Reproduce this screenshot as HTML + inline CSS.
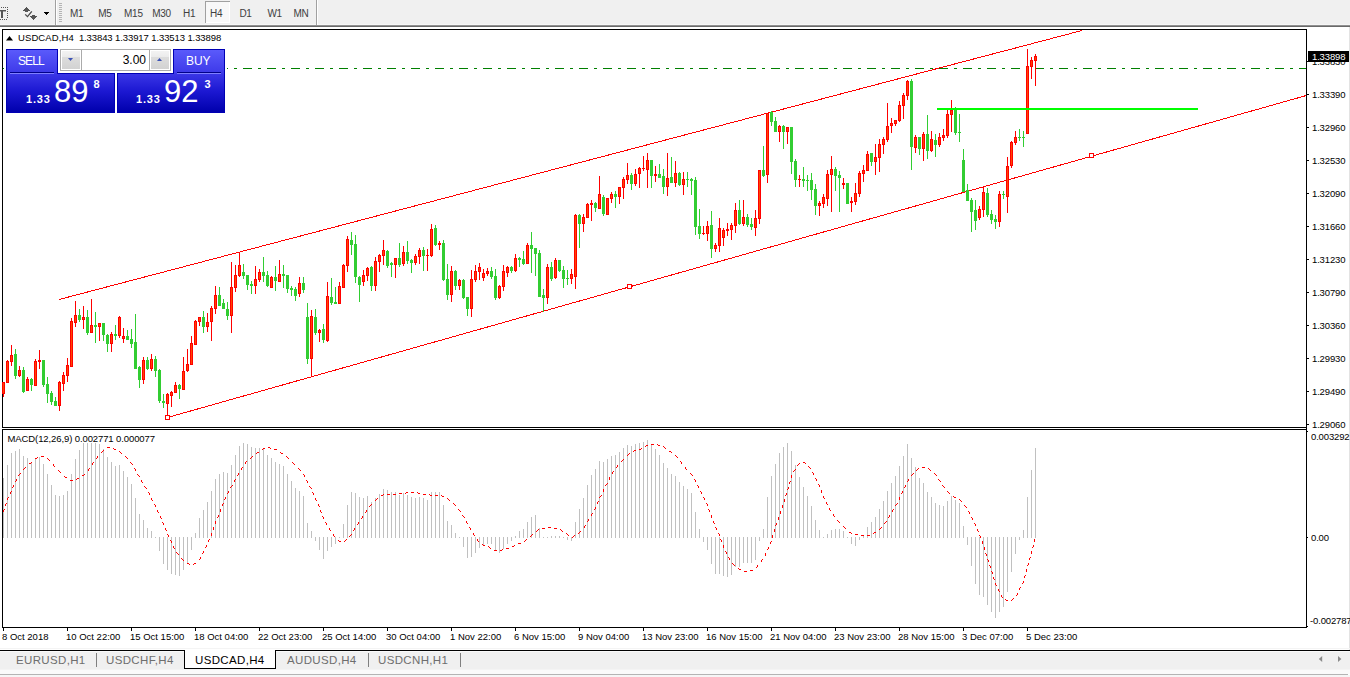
<!DOCTYPE html>
<html><head><meta charset="utf-8"><title>USDCAD,H4</title>
<style>
html,body{margin:0;padding:0;}
body{width:1350px;height:677px;overflow:hidden;background:#fff;position:relative;font-family:"Liberation Sans",sans-serif;}
.a{position:absolute;}
.t{position:absolute;white-space:nowrap;line-height:1;}
.ax{position:absolute;white-space:nowrap;line-height:1;font-size:9.5px;letter-spacing:-0.15px;color:#000;}
.tl{letter-spacing:0px;}
.tf{position:absolute;white-space:nowrap;line-height:1;font-size:10px;color:#404040;top:9px;letter-spacing:-0.3px;}
.tab{position:absolute;white-space:nowrap;line-height:1;font-size:11.5px;color:#6e6e6e;top:655px;letter-spacing:0.35px;}
</style></head><body>

<div class="a" style="left:0;top:0;width:1350px;height:25px;background:#f0f0f0;"></div>
<div class="a" style="left:0;top:24px;width:1350px;height:1px;background:#f6f6f6;"></div>
<div class="a" style="left:0;top:25px;width:1350px;height:1px;background:#909090;"></div>
<div class="a" style="left:0;top:26px;width:1350px;height:1px;background:#696969;"></div>
<svg class="a" style="left:0;top:0" width="330" height="25" shape-rendering="crispEdges">
<rect x="0" y="10" width="6" height="1" fill="#555"/><rect x="0" y="11" width="6" height="1" fill="#a8a8a8"/><rect x="1" y="10" width="2" height="8" fill="#555"/>
<g fill="#555"><rect x="1" y="7" width="1" height="1"/><rect x="3" y="7" width="1" height="1"/><rect x="5" y="7" width="1" height="1"/><rect x="7" y="7" width="1" height="1"/>
<rect x="7" y="9" width="1" height="1"/><rect x="7" y="11" width="1" height="1"/><rect x="7" y="13" width="1" height="1"/><rect x="7" y="15" width="1" height="1"/><rect x="7" y="17" width="1" height="1"/>
<rect x="0" y="19" width="1" height="1"/><rect x="2" y="19" width="1" height="1"/><rect x="4" y="19" width="1" height="1"/><rect x="6" y="19" width="1" height="1"/></g>
<g fill="#555"><rect x="26" y="7" width="1" height="1"/><rect x="25" y="8" width="3" height="1"/><rect x="24" y="9" width="5" height="1"/><rect x="23" y="10" width="7" height="1"/><rect x="25" y="11" width="3" height="1"/><rect x="32" y="15" width="3" height="1"/><rect x="30" y="16" width="7" height="1"/><rect x="31" y="17" width="5" height="1"/><rect x="32" y="18" width="3" height="1"/><rect x="33" y="19" width="1" height="1"/></g><path d="M25.2,14.4 L27.5,16.6 L31.8,11.4" fill="none" stroke="#4a4a4a" stroke-width="1.3" shape-rendering="geometricPrecision"/><g fill="#000"><rect x="44" y="12" width="5" height="1"/><rect x="45" y="13" width="3" height="1"/><rect x="46" y="14" width="1" height="1"/></g>
<rect x="55" y="0" width="1" height="25" fill="#a0a0a0"/><rect x="56" y="0" width="1" height="25" fill="#fff"/>
<g fill="#b4b4b4"><rect x="59" y="3" width="3" height="1"/><rect x="59" y="5" width="3" height="1"/><rect x="59" y="7" width="3" height="1"/><rect x="59" y="9" width="3" height="1"/><rect x="59" y="11" width="3" height="1"/><rect x="59" y="13" width="3" height="1"/><rect x="59" y="15" width="3" height="1"/><rect x="59" y="17" width="3" height="1"/><rect x="59" y="19" width="3" height="1"/><rect x="59" y="21" width="3" height="1"/></g>
<rect x="205" y="1" width="25" height="22" fill="#f8f8f8" stroke="none"/>
<rect x="205" y="1" width="25" height="1" fill="#a0a0a0"/><rect x="205" y="1" width="1" height="22" fill="#a0a0a0"/>
<rect x="229" y="2" width="1" height="21" fill="#fff"/><rect x="206" y="22" width="24" height="1" fill="#fff"/>
<rect x="316" y="0" width="1" height="25" fill="#a0a0a0"/><rect x="317" y="0" width="1" height="25" fill="#fff"/>
</svg>
<div class="tf" style="left:70px;">M1</div>
<div class="tf" style="left:98.2px;">M5</div>
<div class="tf" style="left:124.1px;">M15</div>
<div class="tf" style="left:152.2px;">M30</div>
<div class="tf" style="left:183px;">H1</div>
<div class="tf" style="left:210.1px;">H4</div>
<div class="tf" style="left:239.4px;">D1</div>
<div class="tf" style="left:267.4px;">W1</div>
<div class="tf" style="left:293.4px;">MN</div>
<div class="a" style="left:2px;top:29px;width:1305px;height:399px;box-sizing:border-box;border:1px solid #000;border-right:none;"></div>
<div class="a" style="left:2px;top:429px;width:1305px;height:199px;box-sizing:border-box;border:1px solid #000;border-right:none;"></div>
<div class="a" style="left:1306px;top:29px;width:1px;height:599px;background:#000;"></div>
<div class="a" style="left:1349px;top:27px;width:1px;height:643px;background:#e3e3e3;"></div>
<svg class="a" style="left:0;top:0" width="1350" height="677" shape-rendering="crispEdges">
<line x1="3" y1="68.5" x2="1306" y2="68.5" stroke="#008000" stroke-width="1" stroke-dasharray="9,6,3,6"/>
<g shape-rendering="crispEdges" stroke="#ff0000" stroke-width="1" fill="none">
<line x1="59" y1="299.5" x2="1082" y2="30.5"/>
<line x1="167.5" y1="417.5" x2="1306" y2="95.6"/>
<rect x="165.5" y="415.5" width="4" height="4" fill="#fff"/>
<rect x="627.5" y="284.5" width="4" height="4" fill="#fff"/>
<rect x="1089.5" y="153.5" width="4" height="4" fill="#fff"/>
</g>
<rect x="3" y="382" width="1" height="15" fill="#ff0000"/>
<rect x="2" y="382" width="3" height="12" fill="#ff0000"/>
<rect x="3" y="383" width="1" height="10" fill="#ff4500"/>
<rect x="7" y="360" width="1" height="23" fill="#ff0000"/>
<rect x="6" y="361" width="3" height="22" fill="#ff0000"/>
<rect x="7" y="362" width="1" height="20" fill="#ff4500"/>
<rect x="11" y="345" width="1" height="21" fill="#ff0000"/>
<rect x="10" y="355" width="3" height="7" fill="#ff0000"/>
<rect x="11" y="356" width="1" height="5" fill="#ff4500"/>
<rect x="15" y="349" width="1" height="30" fill="#32cd32"/>
<rect x="14" y="354" width="3" height="22" fill="#32cd32"/>
<rect x="19" y="366" width="1" height="11" fill="#ff0000"/>
<rect x="18" y="370" width="3" height="6" fill="#ff0000"/>
<rect x="19" y="371" width="1" height="4" fill="#ff4500"/>
<rect x="23" y="367" width="1" height="26" fill="#32cd32"/>
<rect x="22" y="370" width="3" height="22" fill="#32cd32"/>
<rect x="27" y="377" width="1" height="14" fill="#ff0000"/>
<rect x="26" y="379" width="3" height="12" fill="#ff0000"/>
<rect x="27" y="380" width="1" height="10" fill="#ff4500"/>
<rect x="31" y="378" width="1" height="13" fill="#32cd32"/>
<rect x="30" y="379" width="3" height="6" fill="#32cd32"/>
<rect x="35" y="359" width="1" height="27" fill="#ff0000"/>
<rect x="34" y="361" width="3" height="25" fill="#ff0000"/>
<rect x="35" y="362" width="1" height="23" fill="#ff4500"/>
<rect x="39" y="350" width="1" height="19" fill="#ff0000"/>
<rect x="38" y="360" width="3" height="2" fill="#ff0000"/>
<rect x="43" y="360" width="1" height="27" fill="#32cd32"/>
<rect x="42" y="360" width="3" height="25" fill="#32cd32"/>
<rect x="47" y="377" width="1" height="26" fill="#32cd32"/>
<rect x="46" y="384" width="3" height="10" fill="#32cd32"/>
<rect x="51" y="391" width="1" height="14" fill="#32cd32"/>
<rect x="50" y="393" width="3" height="9" fill="#32cd32"/>
<rect x="55" y="397" width="1" height="9" fill="#32cd32"/>
<rect x="54" y="401" width="3" height="5" fill="#32cd32"/>
<rect x="59" y="381" width="1" height="30" fill="#ff0000"/>
<rect x="58" y="382" width="3" height="24" fill="#ff0000"/>
<rect x="59" y="383" width="1" height="22" fill="#ff4500"/>
<rect x="63" y="372" width="1" height="19" fill="#ff0000"/>
<rect x="62" y="375" width="3" height="9" fill="#ff0000"/>
<rect x="63" y="376" width="1" height="7" fill="#ff4500"/>
<rect x="67" y="358" width="1" height="24" fill="#ff0000"/>
<rect x="66" y="365" width="3" height="11" fill="#ff0000"/>
<rect x="67" y="366" width="1" height="9" fill="#ff4500"/>
<rect x="71" y="318" width="1" height="49" fill="#ff0000"/>
<rect x="70" y="321" width="3" height="46" fill="#ff0000"/>
<rect x="71" y="322" width="1" height="44" fill="#ff4500"/>
<rect x="75" y="301" width="1" height="26" fill="#ff0000"/>
<rect x="74" y="315" width="3" height="8" fill="#ff0000"/>
<rect x="75" y="316" width="1" height="6" fill="#ff4500"/>
<rect x="79" y="309" width="1" height="13" fill="#32cd32"/>
<rect x="78" y="315" width="3" height="5" fill="#32cd32"/>
<rect x="83" y="306" width="1" height="23" fill="#ff0000"/>
<rect x="82" y="317" width="3" height="3" fill="#ff0000"/>
<rect x="83" y="318" width="1" height="1" fill="#ff4500"/>
<rect x="87" y="310" width="1" height="25" fill="#32cd32"/>
<rect x="86" y="317" width="3" height="16" fill="#32cd32"/>
<rect x="91" y="299" width="1" height="34" fill="#ff0000"/>
<rect x="90" y="325" width="3" height="8" fill="#ff0000"/>
<rect x="91" y="326" width="1" height="6" fill="#ff4500"/>
<rect x="95" y="312" width="1" height="31" fill="#32cd32"/>
<rect x="94" y="325" width="3" height="2" fill="#32cd32"/>
<rect x="99" y="323" width="1" height="18" fill="#ff0000"/>
<rect x="98" y="323" width="3" height="4" fill="#ff0000"/>
<rect x="99" y="324" width="1" height="2" fill="#ff4500"/>
<rect x="103" y="323" width="1" height="18" fill="#32cd32"/>
<rect x="102" y="323" width="3" height="12" fill="#32cd32"/>
<rect x="107" y="334" width="1" height="18" fill="#32cd32"/>
<rect x="106" y="335" width="3" height="9" fill="#32cd32"/>
<rect x="111" y="332" width="1" height="20" fill="#ff0000"/>
<rect x="110" y="334" width="3" height="10" fill="#ff0000"/>
<rect x="111" y="335" width="1" height="8" fill="#ff4500"/>
<rect x="115" y="325" width="1" height="15" fill="#32cd32"/>
<rect x="114" y="334" width="3" height="2" fill="#32cd32"/>
<rect x="119" y="316" width="1" height="22" fill="#ff0000"/>
<rect x="118" y="317" width="3" height="19" fill="#ff0000"/>
<rect x="119" y="318" width="1" height="17" fill="#ff4500"/>
<rect x="123" y="328" width="1" height="15" fill="#ff0000"/>
<rect x="122" y="336" width="3" height="3" fill="#ff0000"/>
<rect x="123" y="337" width="1" height="1" fill="#ff4500"/>
<rect x="127" y="330" width="1" height="10" fill="#32cd32"/>
<rect x="126" y="336" width="3" height="4" fill="#32cd32"/>
<rect x="131" y="329" width="1" height="19" fill="#32cd32"/>
<rect x="130" y="339" width="3" height="5" fill="#32cd32"/>
<rect x="135" y="314" width="1" height="55" fill="#32cd32"/>
<rect x="134" y="342" width="3" height="27" fill="#32cd32"/>
<rect x="139" y="366" width="1" height="22" fill="#32cd32"/>
<rect x="138" y="367" width="3" height="13" fill="#32cd32"/>
<rect x="143" y="357" width="1" height="27" fill="#ff0000"/>
<rect x="142" y="360" width="3" height="20" fill="#ff0000"/>
<rect x="143" y="361" width="1" height="18" fill="#ff4500"/>
<rect x="147" y="357" width="1" height="13" fill="#32cd32"/>
<rect x="146" y="360" width="3" height="9" fill="#32cd32"/>
<rect x="151" y="354" width="1" height="17" fill="#ff0000"/>
<rect x="150" y="359" width="3" height="10" fill="#ff0000"/>
<rect x="151" y="360" width="1" height="8" fill="#ff4500"/>
<rect x="155" y="356" width="1" height="21" fill="#32cd32"/>
<rect x="154" y="359" width="3" height="12" fill="#32cd32"/>
<rect x="159" y="369" width="1" height="34" fill="#32cd32"/>
<rect x="158" y="370" width="3" height="31" fill="#32cd32"/>
<rect x="163" y="394" width="1" height="14" fill="#32cd32"/>
<rect x="162" y="401" width="3" height="2" fill="#32cd32"/>
<rect x="167" y="393" width="1" height="23" fill="#ff0000"/>
<rect x="166" y="394" width="3" height="10" fill="#ff0000"/>
<rect x="167" y="395" width="1" height="8" fill="#ff4500"/>
<rect x="171" y="391" width="1" height="16" fill="#ff0000"/>
<rect x="170" y="392" width="3" height="4" fill="#ff0000"/>
<rect x="171" y="393" width="1" height="2" fill="#ff4500"/>
<rect x="175" y="382" width="1" height="11" fill="#ff0000"/>
<rect x="174" y="385" width="3" height="8" fill="#ff0000"/>
<rect x="175" y="386" width="1" height="6" fill="#ff4500"/>
<rect x="179" y="384" width="1" height="15" fill="#32cd32"/>
<rect x="178" y="385" width="3" height="4" fill="#32cd32"/>
<rect x="183" y="357" width="1" height="33" fill="#ff0000"/>
<rect x="182" y="371" width="3" height="19" fill="#ff0000"/>
<rect x="183" y="372" width="1" height="17" fill="#ff4500"/>
<rect x="187" y="349" width="1" height="23" fill="#ff0000"/>
<rect x="186" y="364" width="3" height="7" fill="#ff0000"/>
<rect x="187" y="365" width="1" height="5" fill="#ff4500"/>
<rect x="191" y="336" width="1" height="29" fill="#ff0000"/>
<rect x="190" y="343" width="3" height="22" fill="#ff0000"/>
<rect x="191" y="344" width="1" height="20" fill="#ff4500"/>
<rect x="195" y="320" width="1" height="25" fill="#ff0000"/>
<rect x="194" y="321" width="3" height="24" fill="#ff0000"/>
<rect x="195" y="322" width="1" height="22" fill="#ff4500"/>
<rect x="199" y="317" width="1" height="9" fill="#ff0000"/>
<rect x="198" y="317" width="3" height="5" fill="#ff0000"/>
<rect x="199" y="318" width="1" height="3" fill="#ff4500"/>
<rect x="203" y="311" width="1" height="22" fill="#32cd32"/>
<rect x="202" y="317" width="3" height="10" fill="#32cd32"/>
<rect x="207" y="313" width="1" height="19" fill="#ff0000"/>
<rect x="206" y="322" width="3" height="5" fill="#ff0000"/>
<rect x="207" y="323" width="1" height="3" fill="#ff4500"/>
<rect x="211" y="306" width="1" height="35" fill="#ff0000"/>
<rect x="210" y="308" width="3" height="14" fill="#ff0000"/>
<rect x="211" y="309" width="1" height="12" fill="#ff4500"/>
<rect x="215" y="286" width="1" height="28" fill="#ff0000"/>
<rect x="214" y="295" width="3" height="14" fill="#ff0000"/>
<rect x="215" y="296" width="1" height="12" fill="#ff4500"/>
<rect x="219" y="287" width="1" height="19" fill="#32cd32"/>
<rect x="218" y="295" width="3" height="11" fill="#32cd32"/>
<rect x="223" y="299" width="1" height="10" fill="#32cd32"/>
<rect x="222" y="303" width="3" height="6" fill="#32cd32"/>
<rect x="227" y="302" width="1" height="18" fill="#32cd32"/>
<rect x="226" y="309" width="3" height="7" fill="#32cd32"/>
<rect x="231" y="262" width="1" height="71" fill="#ff0000"/>
<rect x="230" y="287" width="3" height="29" fill="#ff0000"/>
<rect x="231" y="288" width="1" height="27" fill="#ff4500"/>
<rect x="235" y="265" width="1" height="27" fill="#ff0000"/>
<rect x="234" y="275" width="3" height="13" fill="#ff0000"/>
<rect x="235" y="276" width="1" height="11" fill="#ff4500"/>
<rect x="239" y="252" width="1" height="25" fill="#ff0000"/>
<rect x="238" y="265" width="3" height="11" fill="#ff0000"/>
<rect x="239" y="266" width="1" height="9" fill="#ff4500"/>
<rect x="243" y="264" width="1" height="15" fill="#32cd32"/>
<rect x="242" y="272" width="3" height="4" fill="#32cd32"/>
<rect x="247" y="275" width="1" height="15" fill="#32cd32"/>
<rect x="246" y="275" width="3" height="10" fill="#32cd32"/>
<rect x="251" y="281" width="1" height="13" fill="#32cd32"/>
<rect x="250" y="284" width="3" height="2" fill="#32cd32"/>
<rect x="255" y="266" width="1" height="28" fill="#ff0000"/>
<rect x="254" y="279" width="3" height="7" fill="#ff0000"/>
<rect x="255" y="280" width="1" height="5" fill="#ff4500"/>
<rect x="259" y="269" width="1" height="13" fill="#ff0000"/>
<rect x="258" y="272" width="3" height="8" fill="#ff0000"/>
<rect x="259" y="273" width="1" height="6" fill="#ff4500"/>
<rect x="263" y="257" width="1" height="25" fill="#32cd32"/>
<rect x="262" y="272" width="3" height="4" fill="#32cd32"/>
<rect x="267" y="271" width="1" height="16" fill="#32cd32"/>
<rect x="266" y="275" width="3" height="11" fill="#32cd32"/>
<rect x="271" y="276" width="1" height="12" fill="#ff0000"/>
<rect x="270" y="277" width="3" height="11" fill="#ff0000"/>
<rect x="271" y="278" width="1" height="9" fill="#ff4500"/>
<rect x="275" y="266" width="1" height="25" fill="#32cd32"/>
<rect x="274" y="277" width="3" height="4" fill="#32cd32"/>
<rect x="279" y="260" width="1" height="22" fill="#ff0000"/>
<rect x="278" y="274" width="3" height="8" fill="#ff0000"/>
<rect x="279" y="275" width="1" height="6" fill="#ff4500"/>
<rect x="283" y="265" width="1" height="23" fill="#32cd32"/>
<rect x="282" y="274" width="3" height="2" fill="#32cd32"/>
<rect x="287" y="275" width="1" height="18" fill="#32cd32"/>
<rect x="286" y="275" width="3" height="14" fill="#32cd32"/>
<rect x="291" y="286" width="1" height="10" fill="#32cd32"/>
<rect x="290" y="288" width="3" height="2" fill="#32cd32"/>
<rect x="295" y="287" width="1" height="14" fill="#32cd32"/>
<rect x="294" y="289" width="3" height="7" fill="#32cd32"/>
<rect x="299" y="277" width="1" height="20" fill="#ff0000"/>
<rect x="298" y="283" width="3" height="11" fill="#ff0000"/>
<rect x="299" y="284" width="1" height="9" fill="#ff4500"/>
<rect x="303" y="277" width="1" height="16" fill="#32cd32"/>
<rect x="302" y="283" width="3" height="7" fill="#32cd32"/>
<rect x="307" y="303" width="1" height="61" fill="#32cd32"/>
<rect x="306" y="317" width="3" height="42" fill="#32cd32"/>
<rect x="311" y="310" width="1" height="67" fill="#ff0000"/>
<rect x="310" y="316" width="3" height="43" fill="#ff0000"/>
<rect x="311" y="317" width="1" height="41" fill="#ff4500"/>
<rect x="315" y="309" width="1" height="26" fill="#32cd32"/>
<rect x="314" y="317" width="3" height="16" fill="#32cd32"/>
<rect x="319" y="329" width="1" height="13" fill="#ff0000"/>
<rect x="318" y="330" width="3" height="3" fill="#ff0000"/>
<rect x="319" y="331" width="1" height="1" fill="#ff4500"/>
<rect x="323" y="324" width="1" height="19" fill="#32cd32"/>
<rect x="322" y="329" width="3" height="11" fill="#32cd32"/>
<rect x="327" y="282" width="1" height="60" fill="#ff0000"/>
<rect x="326" y="296" width="3" height="45" fill="#ff0000"/>
<rect x="327" y="297" width="1" height="43" fill="#ff4500"/>
<rect x="331" y="278" width="1" height="27" fill="#32cd32"/>
<rect x="330" y="297" width="3" height="6" fill="#32cd32"/>
<rect x="335" y="287" width="1" height="17" fill="#32cd32"/>
<rect x="334" y="302" width="3" height="2" fill="#32cd32"/>
<rect x="339" y="282" width="1" height="22" fill="#ff0000"/>
<rect x="338" y="286" width="3" height="18" fill="#ff0000"/>
<rect x="339" y="287" width="1" height="16" fill="#ff4500"/>
<rect x="343" y="264" width="1" height="24" fill="#ff0000"/>
<rect x="342" y="265" width="3" height="23" fill="#ff0000"/>
<rect x="343" y="266" width="1" height="21" fill="#ff4500"/>
<rect x="347" y="236" width="1" height="36" fill="#ff0000"/>
<rect x="346" y="239" width="3" height="27" fill="#ff0000"/>
<rect x="347" y="240" width="1" height="25" fill="#ff4500"/>
<rect x="351" y="232" width="1" height="23" fill="#32cd32"/>
<rect x="350" y="240" width="3" height="5" fill="#32cd32"/>
<rect x="355" y="235" width="1" height="48" fill="#32cd32"/>
<rect x="354" y="244" width="3" height="33" fill="#32cd32"/>
<rect x="359" y="276" width="1" height="26" fill="#32cd32"/>
<rect x="358" y="277" width="3" height="8" fill="#32cd32"/>
<rect x="363" y="270" width="1" height="16" fill="#ff0000"/>
<rect x="362" y="275" width="3" height="7" fill="#ff0000"/>
<rect x="363" y="276" width="1" height="5" fill="#ff4500"/>
<rect x="367" y="267" width="1" height="14" fill="#ff0000"/>
<rect x="366" y="268" width="3" height="8" fill="#ff0000"/>
<rect x="367" y="269" width="1" height="6" fill="#ff4500"/>
<rect x="371" y="266" width="1" height="25" fill="#32cd32"/>
<rect x="370" y="267" width="3" height="19" fill="#32cd32"/>
<rect x="375" y="257" width="1" height="34" fill="#ff0000"/>
<rect x="374" y="261" width="3" height="25" fill="#ff0000"/>
<rect x="375" y="262" width="1" height="23" fill="#ff4500"/>
<rect x="379" y="254" width="1" height="18" fill="#ff0000"/>
<rect x="378" y="255" width="3" height="7" fill="#ff0000"/>
<rect x="379" y="256" width="1" height="5" fill="#ff4500"/>
<rect x="383" y="240" width="1" height="25" fill="#ff0000"/>
<rect x="382" y="250" width="3" height="6" fill="#ff0000"/>
<rect x="383" y="251" width="1" height="4" fill="#ff4500"/>
<rect x="387" y="250" width="1" height="18" fill="#32cd32"/>
<rect x="386" y="251" width="3" height="15" fill="#32cd32"/>
<rect x="391" y="262" width="1" height="15" fill="#32cd32"/>
<rect x="390" y="263" width="3" height="2" fill="#32cd32"/>
<rect x="395" y="258" width="1" height="20" fill="#ff0000"/>
<rect x="394" y="258" width="3" height="7" fill="#ff0000"/>
<rect x="395" y="259" width="1" height="5" fill="#ff4500"/>
<rect x="399" y="243" width="1" height="24" fill="#32cd32"/>
<rect x="398" y="258" width="3" height="7" fill="#32cd32"/>
<rect x="403" y="246" width="1" height="20" fill="#ff0000"/>
<rect x="402" y="252" width="3" height="12" fill="#ff0000"/>
<rect x="403" y="253" width="1" height="10" fill="#ff4500"/>
<rect x="407" y="241" width="1" height="23" fill="#32cd32"/>
<rect x="406" y="252" width="3" height="9" fill="#32cd32"/>
<rect x="411" y="259" width="1" height="14" fill="#32cd32"/>
<rect x="410" y="260" width="3" height="3" fill="#32cd32"/>
<rect x="415" y="254" width="1" height="11" fill="#ff0000"/>
<rect x="414" y="256" width="3" height="7" fill="#ff0000"/>
<rect x="415" y="257" width="1" height="5" fill="#ff4500"/>
<rect x="419" y="248" width="1" height="16" fill="#ff0000"/>
<rect x="418" y="250" width="3" height="7" fill="#ff0000"/>
<rect x="419" y="251" width="1" height="5" fill="#ff4500"/>
<rect x="423" y="247" width="1" height="24" fill="#32cd32"/>
<rect x="422" y="250" width="3" height="6" fill="#32cd32"/>
<rect x="427" y="249" width="1" height="22" fill="#ff0000"/>
<rect x="426" y="255" width="3" height="1" fill="#ff0000"/>
<rect x="431" y="224" width="1" height="33" fill="#ff0000"/>
<rect x="430" y="229" width="3" height="27" fill="#ff0000"/>
<rect x="431" y="230" width="1" height="25" fill="#ff4500"/>
<rect x="435" y="225" width="1" height="21" fill="#32cd32"/>
<rect x="434" y="228" width="3" height="17" fill="#32cd32"/>
<rect x="439" y="241" width="1" height="9" fill="#ff0000"/>
<rect x="438" y="243" width="3" height="2" fill="#ff0000"/>
<rect x="443" y="240" width="1" height="41" fill="#32cd32"/>
<rect x="442" y="243" width="3" height="37" fill="#32cd32"/>
<rect x="447" y="264" width="1" height="36" fill="#32cd32"/>
<rect x="446" y="279" width="3" height="16" fill="#32cd32"/>
<rect x="451" y="266" width="1" height="36" fill="#ff0000"/>
<rect x="450" y="271" width="3" height="24" fill="#ff0000"/>
<rect x="451" y="272" width="1" height="22" fill="#ff4500"/>
<rect x="455" y="270" width="1" height="20" fill="#32cd32"/>
<rect x="454" y="271" width="3" height="15" fill="#32cd32"/>
<rect x="459" y="279" width="1" height="11" fill="#ff0000"/>
<rect x="458" y="280" width="3" height="6" fill="#ff0000"/>
<rect x="459" y="281" width="1" height="4" fill="#ff4500"/>
<rect x="463" y="279" width="1" height="20" fill="#32cd32"/>
<rect x="462" y="280" width="3" height="18" fill="#32cd32"/>
<rect x="467" y="297" width="1" height="19" fill="#32cd32"/>
<rect x="466" y="297" width="3" height="12" fill="#32cd32"/>
<rect x="471" y="270" width="1" height="47" fill="#ff0000"/>
<rect x="470" y="279" width="3" height="30" fill="#ff0000"/>
<rect x="471" y="280" width="1" height="28" fill="#ff4500"/>
<rect x="475" y="265" width="1" height="17" fill="#ff0000"/>
<rect x="474" y="271" width="3" height="9" fill="#ff0000"/>
<rect x="475" y="272" width="1" height="7" fill="#ff4500"/>
<rect x="479" y="263" width="1" height="17" fill="#ff0000"/>
<rect x="478" y="267" width="3" height="5" fill="#ff0000"/>
<rect x="479" y="268" width="1" height="3" fill="#ff4500"/>
<rect x="483" y="269" width="1" height="12" fill="#ff0000"/>
<rect x="482" y="273" width="3" height="5" fill="#ff0000"/>
<rect x="483" y="274" width="1" height="3" fill="#ff4500"/>
<rect x="487" y="268" width="1" height="8" fill="#ff0000"/>
<rect x="486" y="271" width="3" height="3" fill="#ff0000"/>
<rect x="487" y="272" width="1" height="1" fill="#ff4500"/>
<rect x="491" y="267" width="1" height="12" fill="#32cd32"/>
<rect x="490" y="271" width="3" height="6" fill="#32cd32"/>
<rect x="495" y="269" width="1" height="31" fill="#32cd32"/>
<rect x="494" y="276" width="3" height="22" fill="#32cd32"/>
<rect x="499" y="285" width="1" height="14" fill="#ff0000"/>
<rect x="498" y="286" width="3" height="12" fill="#ff0000"/>
<rect x="499" y="287" width="1" height="10" fill="#ff4500"/>
<rect x="503" y="265" width="1" height="26" fill="#ff0000"/>
<rect x="502" y="271" width="3" height="16" fill="#ff0000"/>
<rect x="503" y="272" width="1" height="14" fill="#ff4500"/>
<rect x="507" y="266" width="1" height="11" fill="#ff0000"/>
<rect x="506" y="267" width="3" height="6" fill="#ff0000"/>
<rect x="507" y="268" width="1" height="4" fill="#ff4500"/>
<rect x="511" y="266" width="1" height="7" fill="#32cd32"/>
<rect x="510" y="267" width="3" height="4" fill="#32cd32"/>
<rect x="515" y="254" width="1" height="18" fill="#ff0000"/>
<rect x="514" y="258" width="3" height="13" fill="#ff0000"/>
<rect x="515" y="259" width="1" height="11" fill="#ff4500"/>
<rect x="519" y="257" width="1" height="10" fill="#32cd32"/>
<rect x="518" y="258" width="3" height="2" fill="#32cd32"/>
<rect x="523" y="251" width="1" height="14" fill="#32cd32"/>
<rect x="522" y="259" width="3" height="5" fill="#32cd32"/>
<rect x="527" y="243" width="1" height="21" fill="#ff0000"/>
<rect x="526" y="245" width="3" height="19" fill="#ff0000"/>
<rect x="527" y="246" width="1" height="17" fill="#ff4500"/>
<rect x="531" y="232" width="1" height="41" fill="#32cd32"/>
<rect x="530" y="245" width="3" height="4" fill="#32cd32"/>
<rect x="535" y="248" width="1" height="28" fill="#32cd32"/>
<rect x="534" y="248" width="3" height="6" fill="#32cd32"/>
<rect x="539" y="250" width="1" height="47" fill="#32cd32"/>
<rect x="538" y="253" width="3" height="44" fill="#32cd32"/>
<rect x="543" y="289" width="1" height="23" fill="#32cd32"/>
<rect x="542" y="295" width="3" height="3" fill="#32cd32"/>
<rect x="547" y="264" width="1" height="40" fill="#ff0000"/>
<rect x="546" y="267" width="3" height="31" fill="#ff0000"/>
<rect x="547" y="268" width="1" height="29" fill="#ff4500"/>
<rect x="551" y="262" width="1" height="19" fill="#32cd32"/>
<rect x="550" y="267" width="3" height="12" fill="#32cd32"/>
<rect x="555" y="258" width="1" height="21" fill="#ff0000"/>
<rect x="554" y="260" width="3" height="18" fill="#ff0000"/>
<rect x="555" y="261" width="1" height="16" fill="#ff4500"/>
<rect x="559" y="260" width="1" height="12" fill="#32cd32"/>
<rect x="558" y="260" width="3" height="11" fill="#32cd32"/>
<rect x="563" y="266" width="1" height="22" fill="#32cd32"/>
<rect x="562" y="270" width="3" height="9" fill="#32cd32"/>
<rect x="567" y="270" width="1" height="15" fill="#32cd32"/>
<rect x="566" y="278" width="3" height="1" fill="#32cd32"/>
<rect x="571" y="269" width="1" height="15" fill="#ff0000"/>
<rect x="570" y="274" width="3" height="5" fill="#ff0000"/>
<rect x="571" y="275" width="1" height="3" fill="#ff4500"/>
<rect x="575" y="214" width="1" height="75" fill="#ff0000"/>
<rect x="574" y="215" width="3" height="62" fill="#ff0000"/>
<rect x="575" y="216" width="1" height="60" fill="#ff4500"/>
<rect x="579" y="214" width="1" height="34" fill="#32cd32"/>
<rect x="578" y="215" width="3" height="9" fill="#32cd32"/>
<rect x="583" y="214" width="1" height="18" fill="#ff0000"/>
<rect x="582" y="217" width="3" height="7" fill="#ff0000"/>
<rect x="583" y="218" width="1" height="5" fill="#ff4500"/>
<rect x="587" y="203" width="1" height="15" fill="#ff0000"/>
<rect x="586" y="204" width="3" height="14" fill="#ff0000"/>
<rect x="587" y="205" width="1" height="12" fill="#ff4500"/>
<rect x="591" y="200" width="1" height="21" fill="#ff0000"/>
<rect x="590" y="203" width="3" height="2" fill="#ff0000"/>
<rect x="595" y="202" width="1" height="10" fill="#32cd32"/>
<rect x="594" y="203" width="3" height="5" fill="#32cd32"/>
<rect x="599" y="176" width="1" height="33" fill="#ff0000"/>
<rect x="598" y="194" width="3" height="15" fill="#ff0000"/>
<rect x="599" y="195" width="1" height="13" fill="#ff4500"/>
<rect x="603" y="195" width="1" height="21" fill="#32cd32"/>
<rect x="602" y="197" width="3" height="17" fill="#32cd32"/>
<rect x="607" y="198" width="1" height="17" fill="#ff0000"/>
<rect x="606" y="198" width="3" height="17" fill="#ff0000"/>
<rect x="607" y="199" width="1" height="15" fill="#ff4500"/>
<rect x="611" y="192" width="1" height="11" fill="#ff0000"/>
<rect x="610" y="194" width="3" height="5" fill="#ff0000"/>
<rect x="611" y="195" width="1" height="3" fill="#ff4500"/>
<rect x="615" y="191" width="1" height="17" fill="#32cd32"/>
<rect x="614" y="194" width="3" height="3" fill="#32cd32"/>
<rect x="619" y="187" width="1" height="17" fill="#ff0000"/>
<rect x="618" y="187" width="3" height="10" fill="#ff0000"/>
<rect x="619" y="188" width="1" height="8" fill="#ff4500"/>
<rect x="623" y="177" width="1" height="22" fill="#ff0000"/>
<rect x="622" y="179" width="3" height="9" fill="#ff0000"/>
<rect x="623" y="180" width="1" height="7" fill="#ff4500"/>
<rect x="627" y="163" width="1" height="21" fill="#ff0000"/>
<rect x="626" y="175" width="3" height="5" fill="#ff0000"/>
<rect x="627" y="176" width="1" height="3" fill="#ff4500"/>
<rect x="631" y="173" width="1" height="17" fill="#32cd32"/>
<rect x="630" y="175" width="3" height="9" fill="#32cd32"/>
<rect x="635" y="169" width="1" height="17" fill="#ff0000"/>
<rect x="634" y="174" width="3" height="10" fill="#ff0000"/>
<rect x="635" y="175" width="1" height="8" fill="#ff4500"/>
<rect x="639" y="167" width="1" height="21" fill="#ff0000"/>
<rect x="638" y="168" width="3" height="6" fill="#ff0000"/>
<rect x="639" y="169" width="1" height="4" fill="#ff4500"/>
<rect x="643" y="156" width="1" height="15" fill="#ff0000"/>
<rect x="642" y="168" width="3" height="1" fill="#ff0000"/>
<rect x="647" y="153" width="1" height="35" fill="#ff0000"/>
<rect x="646" y="160" width="3" height="10" fill="#ff0000"/>
<rect x="647" y="161" width="1" height="8" fill="#ff4500"/>
<rect x="651" y="160" width="1" height="28" fill="#32cd32"/>
<rect x="650" y="160" width="3" height="16" fill="#32cd32"/>
<rect x="655" y="166" width="1" height="16" fill="#ff0000"/>
<rect x="654" y="174" width="3" height="2" fill="#ff0000"/>
<rect x="659" y="164" width="1" height="14" fill="#32cd32"/>
<rect x="658" y="174" width="3" height="4" fill="#32cd32"/>
<rect x="663" y="169" width="1" height="25" fill="#32cd32"/>
<rect x="662" y="176" width="3" height="11" fill="#32cd32"/>
<rect x="667" y="153" width="1" height="43" fill="#ff0000"/>
<rect x="666" y="178" width="3" height="9" fill="#ff0000"/>
<rect x="667" y="179" width="1" height="7" fill="#ff4500"/>
<rect x="671" y="157" width="1" height="26" fill="#32cd32"/>
<rect x="670" y="177" width="3" height="6" fill="#32cd32"/>
<rect x="675" y="161" width="1" height="26" fill="#ff0000"/>
<rect x="674" y="173" width="3" height="10" fill="#ff0000"/>
<rect x="675" y="174" width="1" height="8" fill="#ff4500"/>
<rect x="679" y="172" width="1" height="14" fill="#32cd32"/>
<rect x="678" y="173" width="3" height="12" fill="#32cd32"/>
<rect x="683" y="172" width="1" height="23" fill="#ff0000"/>
<rect x="682" y="179" width="3" height="6" fill="#ff0000"/>
<rect x="683" y="180" width="1" height="4" fill="#ff4500"/>
<rect x="687" y="172" width="1" height="15" fill="#32cd32"/>
<rect x="686" y="179" width="3" height="1" fill="#32cd32"/>
<rect x="691" y="178" width="1" height="17" fill="#32cd32"/>
<rect x="690" y="179" width="3" height="2" fill="#32cd32"/>
<rect x="695" y="177" width="1" height="58" fill="#32cd32"/>
<rect x="694" y="180" width="3" height="47" fill="#32cd32"/>
<rect x="699" y="209" width="1" height="30" fill="#32cd32"/>
<rect x="698" y="226" width="3" height="8" fill="#32cd32"/>
<rect x="703" y="226" width="1" height="9" fill="#ff0000"/>
<rect x="702" y="233" width="3" height="1" fill="#ff0000"/>
<rect x="707" y="221" width="1" height="20" fill="#ff0000"/>
<rect x="706" y="226" width="3" height="8" fill="#ff0000"/>
<rect x="707" y="227" width="1" height="6" fill="#ff4500"/>
<rect x="711" y="211" width="1" height="47" fill="#32cd32"/>
<rect x="710" y="225" width="3" height="24" fill="#32cd32"/>
<rect x="715" y="243" width="1" height="9" fill="#ff0000"/>
<rect x="714" y="245" width="3" height="4" fill="#ff0000"/>
<rect x="715" y="246" width="1" height="2" fill="#ff4500"/>
<rect x="719" y="218" width="1" height="34" fill="#ff0000"/>
<rect x="718" y="228" width="3" height="18" fill="#ff0000"/>
<rect x="719" y="229" width="1" height="16" fill="#ff4500"/>
<rect x="723" y="228" width="1" height="18" fill="#ff0000"/>
<rect x="722" y="230" width="3" height="8" fill="#ff0000"/>
<rect x="723" y="231" width="1" height="6" fill="#ff4500"/>
<rect x="727" y="223" width="1" height="13" fill="#ff0000"/>
<rect x="726" y="229" width="3" height="2" fill="#ff0000"/>
<rect x="731" y="223" width="1" height="17" fill="#ff0000"/>
<rect x="730" y="225" width="3" height="5" fill="#ff0000"/>
<rect x="731" y="226" width="1" height="3" fill="#ff4500"/>
<rect x="735" y="203" width="1" height="30" fill="#ff0000"/>
<rect x="734" y="210" width="3" height="16" fill="#ff0000"/>
<rect x="735" y="211" width="1" height="14" fill="#ff4500"/>
<rect x="739" y="200" width="1" height="25" fill="#32cd32"/>
<rect x="738" y="210" width="3" height="14" fill="#32cd32"/>
<rect x="743" y="200" width="1" height="26" fill="#ff0000"/>
<rect x="742" y="217" width="3" height="7" fill="#ff0000"/>
<rect x="743" y="218" width="1" height="5" fill="#ff4500"/>
<rect x="747" y="214" width="1" height="13" fill="#32cd32"/>
<rect x="746" y="217" width="3" height="8" fill="#32cd32"/>
<rect x="751" y="218" width="1" height="12" fill="#32cd32"/>
<rect x="750" y="224" width="3" height="3" fill="#32cd32"/>
<rect x="755" y="210" width="1" height="26" fill="#ff0000"/>
<rect x="754" y="218" width="3" height="10" fill="#ff0000"/>
<rect x="755" y="219" width="1" height="8" fill="#ff4500"/>
<rect x="759" y="170" width="1" height="54" fill="#ff0000"/>
<rect x="758" y="170" width="3" height="49" fill="#ff0000"/>
<rect x="759" y="171" width="1" height="47" fill="#ff4500"/>
<rect x="763" y="146" width="1" height="31" fill="#32cd32"/>
<rect x="762" y="170" width="3" height="6" fill="#32cd32"/>
<rect x="767" y="113" width="1" height="70" fill="#ff0000"/>
<rect x="766" y="113" width="3" height="62" fill="#ff0000"/>
<rect x="767" y="114" width="1" height="60" fill="#ff4500"/>
<rect x="771" y="111" width="1" height="15" fill="#32cd32"/>
<rect x="770" y="112" width="3" height="10" fill="#32cd32"/>
<rect x="775" y="117" width="1" height="15" fill="#32cd32"/>
<rect x="774" y="121" width="3" height="11" fill="#32cd32"/>
<rect x="779" y="125" width="1" height="17" fill="#ff0000"/>
<rect x="778" y="126" width="3" height="6" fill="#ff0000"/>
<rect x="779" y="127" width="1" height="4" fill="#ff4500"/>
<rect x="783" y="125" width="1" height="24" fill="#32cd32"/>
<rect x="782" y="126" width="3" height="6" fill="#32cd32"/>
<rect x="787" y="127" width="1" height="17" fill="#ff0000"/>
<rect x="786" y="127" width="3" height="5" fill="#ff0000"/>
<rect x="787" y="128" width="1" height="3" fill="#ff4500"/>
<rect x="791" y="127" width="1" height="47" fill="#32cd32"/>
<rect x="790" y="127" width="3" height="35" fill="#32cd32"/>
<rect x="795" y="159" width="1" height="28" fill="#32cd32"/>
<rect x="794" y="161" width="3" height="19" fill="#32cd32"/>
<rect x="799" y="175" width="1" height="12" fill="#ff0000"/>
<rect x="798" y="179" width="3" height="1" fill="#ff0000"/>
<rect x="803" y="167" width="1" height="20" fill="#32cd32"/>
<rect x="802" y="179" width="3" height="2" fill="#32cd32"/>
<rect x="807" y="175" width="1" height="16" fill="#32cd32"/>
<rect x="806" y="180" width="3" height="1" fill="#32cd32"/>
<rect x="811" y="173" width="1" height="27" fill="#32cd32"/>
<rect x="810" y="180" width="3" height="10" fill="#32cd32"/>
<rect x="815" y="184" width="1" height="31" fill="#32cd32"/>
<rect x="814" y="189" width="3" height="17" fill="#32cd32"/>
<rect x="819" y="201" width="1" height="15" fill="#ff0000"/>
<rect x="818" y="203" width="3" height="3" fill="#ff0000"/>
<rect x="819" y="204" width="1" height="1" fill="#ff4500"/>
<rect x="823" y="194" width="1" height="14" fill="#ff0000"/>
<rect x="822" y="197" width="3" height="7" fill="#ff0000"/>
<rect x="823" y="198" width="1" height="5" fill="#ff4500"/>
<rect x="827" y="170" width="1" height="36" fill="#ff0000"/>
<rect x="826" y="174" width="3" height="25" fill="#ff0000"/>
<rect x="827" y="175" width="1" height="23" fill="#ff4500"/>
<rect x="831" y="156" width="1" height="56" fill="#ff0000"/>
<rect x="830" y="169" width="3" height="6" fill="#ff0000"/>
<rect x="831" y="170" width="1" height="4" fill="#ff4500"/>
<rect x="835" y="167" width="1" height="24" fill="#32cd32"/>
<rect x="834" y="169" width="3" height="7" fill="#32cd32"/>
<rect x="839" y="171" width="1" height="41" fill="#32cd32"/>
<rect x="838" y="175" width="3" height="3" fill="#32cd32"/>
<rect x="843" y="178" width="1" height="11" fill="#ff0000"/>
<rect x="842" y="183" width="3" height="2" fill="#ff0000"/>
<rect x="847" y="183" width="1" height="21" fill="#32cd32"/>
<rect x="846" y="183" width="3" height="21" fill="#32cd32"/>
<rect x="851" y="197" width="1" height="15" fill="#ff0000"/>
<rect x="850" y="201" width="3" height="2" fill="#ff0000"/>
<rect x="855" y="183" width="1" height="22" fill="#ff0000"/>
<rect x="854" y="193" width="3" height="9" fill="#ff0000"/>
<rect x="855" y="194" width="1" height="7" fill="#ff4500"/>
<rect x="859" y="171" width="1" height="26" fill="#ff0000"/>
<rect x="858" y="173" width="3" height="21" fill="#ff0000"/>
<rect x="859" y="174" width="1" height="19" fill="#ff4500"/>
<rect x="863" y="165" width="1" height="17" fill="#ff0000"/>
<rect x="862" y="170" width="3" height="4" fill="#ff0000"/>
<rect x="863" y="171" width="1" height="2" fill="#ff4500"/>
<rect x="867" y="151" width="1" height="20" fill="#ff0000"/>
<rect x="866" y="154" width="3" height="17" fill="#ff0000"/>
<rect x="867" y="155" width="1" height="15" fill="#ff4500"/>
<rect x="871" y="153" width="1" height="13" fill="#32cd32"/>
<rect x="870" y="153" width="3" height="9" fill="#32cd32"/>
<rect x="875" y="144" width="1" height="31" fill="#ff0000"/>
<rect x="874" y="157" width="3" height="5" fill="#ff0000"/>
<rect x="875" y="158" width="1" height="3" fill="#ff4500"/>
<rect x="879" y="139" width="1" height="33" fill="#ff0000"/>
<rect x="878" y="144" width="3" height="14" fill="#ff0000"/>
<rect x="879" y="145" width="1" height="12" fill="#ff4500"/>
<rect x="883" y="137" width="1" height="17" fill="#ff0000"/>
<rect x="882" y="139" width="3" height="6" fill="#ff0000"/>
<rect x="883" y="140" width="1" height="4" fill="#ff4500"/>
<rect x="887" y="103" width="1" height="39" fill="#ff0000"/>
<rect x="886" y="126" width="3" height="14" fill="#ff0000"/>
<rect x="887" y="127" width="1" height="12" fill="#ff4500"/>
<rect x="891" y="118" width="1" height="15" fill="#ff0000"/>
<rect x="890" y="123" width="3" height="3" fill="#ff0000"/>
<rect x="891" y="124" width="1" height="1" fill="#ff4500"/>
<rect x="895" y="120" width="1" height="6" fill="#ff0000"/>
<rect x="894" y="120" width="3" height="4" fill="#ff0000"/>
<rect x="895" y="121" width="1" height="2" fill="#ff4500"/>
<rect x="899" y="101" width="1" height="21" fill="#ff0000"/>
<rect x="898" y="105" width="3" height="16" fill="#ff0000"/>
<rect x="899" y="106" width="1" height="14" fill="#ff4500"/>
<rect x="903" y="93" width="1" height="26" fill="#ff0000"/>
<rect x="902" y="95" width="3" height="11" fill="#ff0000"/>
<rect x="903" y="96" width="1" height="9" fill="#ff4500"/>
<rect x="907" y="80" width="1" height="20" fill="#ff0000"/>
<rect x="906" y="81" width="3" height="15" fill="#ff0000"/>
<rect x="907" y="82" width="1" height="13" fill="#ff4500"/>
<rect x="911" y="79" width="1" height="91" fill="#32cd32"/>
<rect x="910" y="81" width="3" height="66" fill="#32cd32"/>
<rect x="915" y="135" width="1" height="18" fill="#ff0000"/>
<rect x="914" y="137" width="3" height="11" fill="#ff0000"/>
<rect x="915" y="138" width="1" height="9" fill="#ff4500"/>
<rect x="919" y="137" width="1" height="18" fill="#32cd32"/>
<rect x="918" y="137" width="3" height="12" fill="#32cd32"/>
<rect x="923" y="132" width="1" height="29" fill="#ff0000"/>
<rect x="922" y="134" width="3" height="15" fill="#ff0000"/>
<rect x="923" y="135" width="1" height="13" fill="#ff4500"/>
<rect x="927" y="115" width="1" height="44" fill="#32cd32"/>
<rect x="926" y="134" width="3" height="17" fill="#32cd32"/>
<rect x="931" y="131" width="1" height="21" fill="#ff0000"/>
<rect x="930" y="139" width="3" height="12" fill="#ff0000"/>
<rect x="931" y="140" width="1" height="10" fill="#ff4500"/>
<rect x="935" y="134" width="1" height="23" fill="#32cd32"/>
<rect x="934" y="140" width="3" height="5" fill="#32cd32"/>
<rect x="939" y="133" width="1" height="14" fill="#ff0000"/>
<rect x="938" y="137" width="3" height="8" fill="#ff0000"/>
<rect x="939" y="138" width="1" height="6" fill="#ff4500"/>
<rect x="943" y="129" width="1" height="12" fill="#ff0000"/>
<rect x="942" y="135" width="3" height="3" fill="#ff0000"/>
<rect x="943" y="136" width="1" height="1" fill="#ff4500"/>
<rect x="947" y="110" width="1" height="28" fill="#ff0000"/>
<rect x="946" y="114" width="3" height="22" fill="#ff0000"/>
<rect x="947" y="115" width="1" height="20" fill="#ff4500"/>
<rect x="951" y="100" width="1" height="32" fill="#ff0000"/>
<rect x="950" y="110" width="3" height="5" fill="#ff0000"/>
<rect x="951" y="111" width="1" height="3" fill="#ff4500"/>
<rect x="955" y="107" width="1" height="28" fill="#32cd32"/>
<rect x="954" y="109" width="3" height="24" fill="#32cd32"/>
<rect x="959" y="114" width="1" height="28" fill="#32cd32"/>
<rect x="958" y="132" width="3" height="1" fill="#32cd32"/>
<rect x="963" y="149" width="1" height="43" fill="#32cd32"/>
<rect x="962" y="160" width="3" height="32" fill="#32cd32"/>
<rect x="967" y="184" width="1" height="17" fill="#32cd32"/>
<rect x="966" y="190" width="3" height="11" fill="#32cd32"/>
<rect x="971" y="198" width="1" height="34" fill="#32cd32"/>
<rect x="970" y="200" width="3" height="12" fill="#32cd32"/>
<rect x="975" y="200" width="1" height="30" fill="#32cd32"/>
<rect x="974" y="210" width="3" height="11" fill="#32cd32"/>
<rect x="979" y="206" width="1" height="14" fill="#ff0000"/>
<rect x="978" y="209" width="3" height="9" fill="#ff0000"/>
<rect x="979" y="210" width="1" height="7" fill="#ff4500"/>
<rect x="983" y="187" width="1" height="30" fill="#ff0000"/>
<rect x="982" y="192" width="3" height="18" fill="#ff0000"/>
<rect x="983" y="193" width="1" height="16" fill="#ff4500"/>
<rect x="987" y="188" width="1" height="29" fill="#32cd32"/>
<rect x="986" y="193" width="3" height="22" fill="#32cd32"/>
<rect x="991" y="210" width="1" height="14" fill="#32cd32"/>
<rect x="990" y="214" width="3" height="6" fill="#32cd32"/>
<rect x="995" y="215" width="1" height="14" fill="#32cd32"/>
<rect x="994" y="219" width="3" height="3" fill="#32cd32"/>
<rect x="999" y="191" width="1" height="36" fill="#ff0000"/>
<rect x="998" y="194" width="3" height="28" fill="#ff0000"/>
<rect x="999" y="195" width="1" height="26" fill="#ff4500"/>
<rect x="1003" y="191" width="1" height="8" fill="#32cd32"/>
<rect x="1002" y="194" width="3" height="1" fill="#32cd32"/>
<rect x="1007" y="157" width="1" height="56" fill="#ff0000"/>
<rect x="1006" y="166" width="3" height="31" fill="#ff0000"/>
<rect x="1007" y="167" width="1" height="29" fill="#ff4500"/>
<rect x="1011" y="141" width="1" height="27" fill="#ff0000"/>
<rect x="1010" y="142" width="3" height="24" fill="#ff0000"/>
<rect x="1011" y="143" width="1" height="22" fill="#ff4500"/>
<rect x="1015" y="131" width="1" height="14" fill="#ff0000"/>
<rect x="1014" y="137" width="3" height="6" fill="#ff0000"/>
<rect x="1015" y="138" width="1" height="4" fill="#ff4500"/>
<rect x="1019" y="129" width="1" height="12" fill="#32cd32"/>
<rect x="1018" y="137" width="3" height="1" fill="#32cd32"/>
<rect x="1023" y="131" width="1" height="16" fill="#32cd32"/>
<rect x="1022" y="137" width="3" height="1" fill="#32cd32"/>
<rect x="1027" y="49" width="1" height="85" fill="#ff0000"/>
<rect x="1026" y="66" width="3" height="68" fill="#ff0000"/>
<rect x="1027" y="67" width="1" height="66" fill="#ff4500"/>
<rect x="1031" y="57" width="1" height="22" fill="#ff0000"/>
<rect x="1030" y="60" width="3" height="7" fill="#ff0000"/>
<rect x="1031" y="61" width="1" height="5" fill="#ff4500"/>
<rect x="1035" y="54" width="1" height="32" fill="#ff0000"/>
<rect x="1034" y="56" width="3" height="5" fill="#ff0000"/>
<rect x="1035" y="57" width="1" height="3" fill="#ff4500"/>
<rect x="937" y="108" width="261" height="2" fill="#00ff00"/>
<rect x="3" y="478" width="1" height="60" fill="#c0c0c0"/>
<rect x="7" y="465" width="1" height="73" fill="#c0c0c0"/>
<rect x="11" y="453" width="1" height="85" fill="#c0c0c0"/>
<rect x="15" y="451" width="1" height="87" fill="#c0c0c0"/>
<rect x="19" y="449" width="1" height="89" fill="#c0c0c0"/>
<rect x="23" y="456" width="1" height="82" fill="#c0c0c0"/>
<rect x="27" y="458" width="1" height="80" fill="#c0c0c0"/>
<rect x="31" y="462" width="1" height="76" fill="#c0c0c0"/>
<rect x="35" y="459" width="1" height="79" fill="#c0c0c0"/>
<rect x="39" y="457" width="1" height="81" fill="#c0c0c0"/>
<rect x="43" y="464" width="1" height="74" fill="#c0c0c0"/>
<rect x="47" y="474" width="1" height="64" fill="#c0c0c0"/>
<rect x="51" y="485" width="1" height="53" fill="#c0c0c0"/>
<rect x="55" y="495" width="1" height="43" fill="#c0c0c0"/>
<rect x="59" y="496" width="1" height="42" fill="#c0c0c0"/>
<rect x="63" y="495" width="1" height="43" fill="#c0c0c0"/>
<rect x="67" y="491" width="1" height="47" fill="#c0c0c0"/>
<rect x="71" y="474" width="1" height="64" fill="#c0c0c0"/>
<rect x="75" y="459" width="1" height="79" fill="#c0c0c0"/>
<rect x="79" y="450" width="1" height="88" fill="#c0c0c0"/>
<rect x="83" y="443" width="1" height="95" fill="#c0c0c0"/>
<rect x="87" y="443" width="1" height="95" fill="#c0c0c0"/>
<rect x="91" y="443" width="1" height="95" fill="#c0c0c0"/>
<rect x="95" y="443" width="1" height="95" fill="#c0c0c0"/>
<rect x="99" y="444" width="1" height="94" fill="#c0c0c0"/>
<rect x="103" y="449" width="1" height="89" fill="#c0c0c0"/>
<rect x="107" y="457" width="1" height="81" fill="#c0c0c0"/>
<rect x="111" y="462" width="1" height="76" fill="#c0c0c0"/>
<rect x="115" y="466" width="1" height="72" fill="#c0c0c0"/>
<rect x="119" y="465" width="1" height="73" fill="#c0c0c0"/>
<rect x="123" y="471" width="1" height="67" fill="#c0c0c0"/>
<rect x="127" y="477" width="1" height="61" fill="#c0c0c0"/>
<rect x="131" y="484" width="1" height="54" fill="#c0c0c0"/>
<rect x="135" y="498" width="1" height="40" fill="#c0c0c0"/>
<rect x="139" y="514" width="1" height="24" fill="#c0c0c0"/>
<rect x="143" y="520" width="1" height="18" fill="#c0c0c0"/>
<rect x="147" y="528" width="1" height="10" fill="#c0c0c0"/>
<rect x="151" y="531" width="1" height="7" fill="#c0c0c0"/>
<rect x="155" y="537" width="1" height="1" fill="#c0c0c0"/>
<rect x="159" y="537" width="1" height="14" fill="#c0c0c0"/>
<rect x="163" y="537" width="1" height="27" fill="#c0c0c0"/>
<rect x="167" y="537" width="1" height="33" fill="#c0c0c0"/>
<rect x="171" y="537" width="1" height="37" fill="#c0c0c0"/>
<rect x="175" y="537" width="1" height="38" fill="#c0c0c0"/>
<rect x="179" y="537" width="1" height="39" fill="#c0c0c0"/>
<rect x="183" y="537" width="1" height="33" fill="#c0c0c0"/>
<rect x="187" y="537" width="1" height="26" fill="#c0c0c0"/>
<rect x="191" y="537" width="1" height="13" fill="#c0c0c0"/>
<rect x="195" y="533" width="1" height="5" fill="#c0c0c0"/>
<rect x="199" y="518" width="1" height="20" fill="#c0c0c0"/>
<rect x="203" y="510" width="1" height="28" fill="#c0c0c0"/>
<rect x="207" y="502" width="1" height="36" fill="#c0c0c0"/>
<rect x="211" y="491" width="1" height="47" fill="#c0c0c0"/>
<rect x="215" y="479" width="1" height="59" fill="#c0c0c0"/>
<rect x="219" y="474" width="1" height="64" fill="#c0c0c0"/>
<rect x="223" y="472" width="1" height="66" fill="#c0c0c0"/>
<rect x="227" y="473" width="1" height="65" fill="#c0c0c0"/>
<rect x="231" y="465" width="1" height="73" fill="#c0c0c0"/>
<rect x="235" y="455" width="1" height="83" fill="#c0c0c0"/>
<rect x="239" y="446" width="1" height="92" fill="#c0c0c0"/>
<rect x="243" y="443" width="1" height="95" fill="#c0c0c0"/>
<rect x="247" y="444" width="1" height="94" fill="#c0c0c0"/>
<rect x="251" y="447" width="1" height="91" fill="#c0c0c0"/>
<rect x="255" y="448" width="1" height="90" fill="#c0c0c0"/>
<rect x="259" y="448" width="1" height="90" fill="#c0c0c0"/>
<rect x="263" y="449" width="1" height="89" fill="#c0c0c0"/>
<rect x="267" y="455" width="1" height="83" fill="#c0c0c0"/>
<rect x="271" y="458" width="1" height="80" fill="#c0c0c0"/>
<rect x="275" y="462" width="1" height="76" fill="#c0c0c0"/>
<rect x="279" y="464" width="1" height="74" fill="#c0c0c0"/>
<rect x="283" y="466" width="1" height="72" fill="#c0c0c0"/>
<rect x="287" y="474" width="1" height="64" fill="#c0c0c0"/>
<rect x="291" y="481" width="1" height="57" fill="#c0c0c0"/>
<rect x="295" y="488" width="1" height="50" fill="#c0c0c0"/>
<rect x="299" y="491" width="1" height="47" fill="#c0c0c0"/>
<rect x="303" y="496" width="1" height="42" fill="#c0c0c0"/>
<rect x="307" y="523" width="1" height="15" fill="#c0c0c0"/>
<rect x="311" y="531" width="1" height="7" fill="#c0c0c0"/>
<rect x="315" y="537" width="1" height="4" fill="#c0c0c0"/>
<rect x="319" y="537" width="1" height="13" fill="#c0c0c0"/>
<rect x="323" y="537" width="1" height="22" fill="#c0c0c0"/>
<rect x="327" y="537" width="1" height="14" fill="#c0c0c0"/>
<rect x="331" y="537" width="1" height="10" fill="#c0c0c0"/>
<rect x="335" y="537" width="1" height="7" fill="#c0c0c0"/>
<rect x="339" y="537" width="1" height="1" fill="#c0c0c0"/>
<rect x="343" y="524" width="1" height="14" fill="#c0c0c0"/>
<rect x="347" y="505" width="1" height="33" fill="#c0c0c0"/>
<rect x="351" y="492" width="1" height="46" fill="#c0c0c0"/>
<rect x="355" y="493" width="1" height="45" fill="#c0c0c0"/>
<rect x="359" y="497" width="1" height="41" fill="#c0c0c0"/>
<rect x="363" y="498" width="1" height="40" fill="#c0c0c0"/>
<rect x="367" y="496" width="1" height="42" fill="#c0c0c0"/>
<rect x="371" y="502" width="1" height="36" fill="#c0c0c0"/>
<rect x="375" y="498" width="1" height="40" fill="#c0c0c0"/>
<rect x="379" y="494" width="1" height="44" fill="#c0c0c0"/>
<rect x="383" y="489" width="1" height="49" fill="#c0c0c0"/>
<rect x="387" y="490" width="1" height="48" fill="#c0c0c0"/>
<rect x="391" y="492" width="1" height="46" fill="#c0c0c0"/>
<rect x="395" y="492" width="1" height="46" fill="#c0c0c0"/>
<rect x="399" y="495" width="1" height="43" fill="#c0c0c0"/>
<rect x="403" y="493" width="1" height="45" fill="#c0c0c0"/>
<rect x="407" y="495" width="1" height="43" fill="#c0c0c0"/>
<rect x="411" y="497" width="1" height="41" fill="#c0c0c0"/>
<rect x="415" y="498" width="1" height="40" fill="#c0c0c0"/>
<rect x="419" y="497" width="1" height="41" fill="#c0c0c0"/>
<rect x="423" y="498" width="1" height="40" fill="#c0c0c0"/>
<rect x="427" y="500" width="1" height="38" fill="#c0c0c0"/>
<rect x="431" y="492" width="1" height="46" fill="#c0c0c0"/>
<rect x="435" y="492" width="1" height="46" fill="#c0c0c0"/>
<rect x="439" y="492" width="1" height="46" fill="#c0c0c0"/>
<rect x="443" y="505" width="1" height="33" fill="#c0c0c0"/>
<rect x="447" y="521" width="1" height="17" fill="#c0c0c0"/>
<rect x="451" y="525" width="1" height="13" fill="#c0c0c0"/>
<rect x="455" y="533" width="1" height="5" fill="#c0c0c0"/>
<rect x="459" y="537" width="1" height="1" fill="#c0c0c0"/>
<rect x="463" y="537" width="1" height="10" fill="#c0c0c0"/>
<rect x="467" y="537" width="1" height="21" fill="#c0c0c0"/>
<rect x="471" y="537" width="1" height="20" fill="#c0c0c0"/>
<rect x="475" y="537" width="1" height="16" fill="#c0c0c0"/>
<rect x="479" y="537" width="1" height="11" fill="#c0c0c0"/>
<rect x="483" y="537" width="1" height="8" fill="#c0c0c0"/>
<rect x="487" y="537" width="1" height="7" fill="#c0c0c0"/>
<rect x="491" y="537" width="1" height="7" fill="#c0c0c0"/>
<rect x="495" y="537" width="1" height="14" fill="#c0c0c0"/>
<rect x="499" y="537" width="1" height="16" fill="#c0c0c0"/>
<rect x="503" y="537" width="1" height="12" fill="#c0c0c0"/>
<rect x="507" y="537" width="1" height="7" fill="#c0c0c0"/>
<rect x="511" y="537" width="1" height="4" fill="#c0c0c0"/>
<rect x="515" y="536" width="1" height="2" fill="#c0c0c0"/>
<rect x="519" y="531" width="1" height="7" fill="#c0c0c0"/>
<rect x="523" y="529" width="1" height="9" fill="#c0c0c0"/>
<rect x="527" y="522" width="1" height="16" fill="#c0c0c0"/>
<rect x="531" y="517" width="1" height="21" fill="#c0c0c0"/>
<rect x="535" y="515" width="1" height="23" fill="#c0c0c0"/>
<rect x="539" y="528" width="1" height="10" fill="#c0c0c0"/>
<rect x="543" y="537" width="1" height="1" fill="#c0c0c0"/>
<rect x="547" y="537" width="1" height="1" fill="#c0c0c0"/>
<rect x="551" y="536" width="1" height="2" fill="#c0c0c0"/>
<rect x="555" y="536" width="1" height="2" fill="#c0c0c0"/>
<rect x="559" y="536" width="1" height="2" fill="#c0c0c0"/>
<rect x="563" y="537" width="1" height="1" fill="#c0c0c0"/>
<rect x="567" y="537" width="1" height="3" fill="#c0c0c0"/>
<rect x="571" y="537" width="1" height="4" fill="#c0c0c0"/>
<rect x="575" y="522" width="1" height="16" fill="#c0c0c0"/>
<rect x="579" y="509" width="1" height="29" fill="#c0c0c0"/>
<rect x="583" y="498" width="1" height="40" fill="#c0c0c0"/>
<rect x="587" y="485" width="1" height="53" fill="#c0c0c0"/>
<rect x="591" y="475" width="1" height="63" fill="#c0c0c0"/>
<rect x="595" y="469" width="1" height="69" fill="#c0c0c0"/>
<rect x="599" y="461" width="1" height="77" fill="#c0c0c0"/>
<rect x="603" y="462" width="1" height="76" fill="#c0c0c0"/>
<rect x="607" y="459" width="1" height="79" fill="#c0c0c0"/>
<rect x="611" y="456" width="1" height="82" fill="#c0c0c0"/>
<rect x="615" y="455" width="1" height="83" fill="#c0c0c0"/>
<rect x="619" y="452" width="1" height="86" fill="#c0c0c0"/>
<rect x="623" y="448" width="1" height="90" fill="#c0c0c0"/>
<rect x="627" y="445" width="1" height="93" fill="#c0c0c0"/>
<rect x="631" y="446" width="1" height="92" fill="#c0c0c0"/>
<rect x="635" y="444" width="1" height="94" fill="#c0c0c0"/>
<rect x="639" y="443" width="1" height="95" fill="#c0c0c0"/>
<rect x="643" y="442" width="1" height="96" fill="#c0c0c0"/>
<rect x="647" y="440" width="1" height="98" fill="#c0c0c0"/>
<rect x="651" y="445" width="1" height="93" fill="#c0c0c0"/>
<rect x="655" y="449" width="1" height="89" fill="#c0c0c0"/>
<rect x="659" y="455" width="1" height="83" fill="#c0c0c0"/>
<rect x="663" y="463" width="1" height="75" fill="#c0c0c0"/>
<rect x="667" y="468" width="1" height="70" fill="#c0c0c0"/>
<rect x="671" y="474" width="1" height="64" fill="#c0c0c0"/>
<rect x="675" y="476" width="1" height="62" fill="#c0c0c0"/>
<rect x="679" y="482" width="1" height="56" fill="#c0c0c0"/>
<rect x="683" y="486" width="1" height="52" fill="#c0c0c0"/>
<rect x="687" y="489" width="1" height="49" fill="#c0c0c0"/>
<rect x="691" y="493" width="1" height="45" fill="#c0c0c0"/>
<rect x="695" y="512" width="1" height="26" fill="#c0c0c0"/>
<rect x="699" y="529" width="1" height="9" fill="#c0c0c0"/>
<rect x="703" y="537" width="1" height="5" fill="#c0c0c0"/>
<rect x="707" y="537" width="1" height="13" fill="#c0c0c0"/>
<rect x="711" y="537" width="1" height="27" fill="#c0c0c0"/>
<rect x="715" y="537" width="1" height="37" fill="#c0c0c0"/>
<rect x="719" y="537" width="1" height="37" fill="#c0c0c0"/>
<rect x="723" y="537" width="1" height="39" fill="#c0c0c0"/>
<rect x="727" y="537" width="1" height="40" fill="#c0c0c0"/>
<rect x="731" y="537" width="1" height="38" fill="#c0c0c0"/>
<rect x="735" y="537" width="1" height="30" fill="#c0c0c0"/>
<rect x="739" y="537" width="1" height="30" fill="#c0c0c0"/>
<rect x="743" y="537" width="1" height="26" fill="#c0c0c0"/>
<rect x="747" y="537" width="1" height="26" fill="#c0c0c0"/>
<rect x="751" y="537" width="1" height="26" fill="#c0c0c0"/>
<rect x="755" y="537" width="1" height="23" fill="#c0c0c0"/>
<rect x="759" y="537" width="1" height="4" fill="#c0c0c0"/>
<rect x="763" y="529" width="1" height="9" fill="#c0c0c0"/>
<rect x="767" y="497" width="1" height="41" fill="#c0c0c0"/>
<rect x="771" y="476" width="1" height="62" fill="#c0c0c0"/>
<rect x="775" y="464" width="1" height="74" fill="#c0c0c0"/>
<rect x="779" y="453" width="1" height="85" fill="#c0c0c0"/>
<rect x="783" y="447" width="1" height="91" fill="#c0c0c0"/>
<rect x="787" y="443" width="1" height="95" fill="#c0c0c0"/>
<rect x="791" y="451" width="1" height="87" fill="#c0c0c0"/>
<rect x="795" y="465" width="1" height="73" fill="#c0c0c0"/>
<rect x="799" y="477" width="1" height="61" fill="#c0c0c0"/>
<rect x="803" y="487" width="1" height="51" fill="#c0c0c0"/>
<rect x="807" y="496" width="1" height="42" fill="#c0c0c0"/>
<rect x="811" y="506" width="1" height="32" fill="#c0c0c0"/>
<rect x="815" y="520" width="1" height="18" fill="#c0c0c0"/>
<rect x="819" y="530" width="1" height="8" fill="#c0c0c0"/>
<rect x="823" y="537" width="1" height="1" fill="#c0c0c0"/>
<rect x="827" y="534" width="1" height="4" fill="#c0c0c0"/>
<rect x="831" y="530" width="1" height="8" fill="#c0c0c0"/>
<rect x="835" y="529" width="1" height="9" fill="#c0c0c0"/>
<rect x="839" y="529" width="1" height="9" fill="#c0c0c0"/>
<rect x="843" y="531" width="1" height="7" fill="#c0c0c0"/>
<rect x="847" y="537" width="1" height="1" fill="#c0c0c0"/>
<rect x="851" y="537" width="1" height="7" fill="#c0c0c0"/>
<rect x="855" y="537" width="1" height="9" fill="#c0c0c0"/>
<rect x="859" y="537" width="1" height="3" fill="#c0c0c0"/>
<rect x="863" y="536" width="1" height="2" fill="#c0c0c0"/>
<rect x="867" y="527" width="1" height="11" fill="#c0c0c0"/>
<rect x="871" y="522" width="1" height="16" fill="#c0c0c0"/>
<rect x="875" y="517" width="1" height="21" fill="#c0c0c0"/>
<rect x="879" y="509" width="1" height="29" fill="#c0c0c0"/>
<rect x="883" y="501" width="1" height="37" fill="#c0c0c0"/>
<rect x="887" y="491" width="1" height="47" fill="#c0c0c0"/>
<rect x="891" y="483" width="1" height="55" fill="#c0c0c0"/>
<rect x="895" y="476" width="1" height="62" fill="#c0c0c0"/>
<rect x="899" y="466" width="1" height="72" fill="#c0c0c0"/>
<rect x="903" y="456" width="1" height="82" fill="#c0c0c0"/>
<rect x="907" y="444" width="1" height="94" fill="#c0c0c0"/>
<rect x="911" y="458" width="1" height="80" fill="#c0c0c0"/>
<rect x="915" y="467" width="1" height="71" fill="#c0c0c0"/>
<rect x="919" y="478" width="1" height="60" fill="#c0c0c0"/>
<rect x="923" y="483" width="1" height="55" fill="#c0c0c0"/>
<rect x="927" y="492" width="1" height="46" fill="#c0c0c0"/>
<rect x="931" y="497" width="1" height="41" fill="#c0c0c0"/>
<rect x="935" y="503" width="1" height="35" fill="#c0c0c0"/>
<rect x="939" y="505" width="1" height="33" fill="#c0c0c0"/>
<rect x="943" y="506" width="1" height="32" fill="#c0c0c0"/>
<rect x="947" y="501" width="1" height="37" fill="#c0c0c0"/>
<rect x="951" y="496" width="1" height="42" fill="#c0c0c0"/>
<rect x="955" y="500" width="1" height="38" fill="#c0c0c0"/>
<rect x="959" y="503" width="1" height="35" fill="#c0c0c0"/>
<rect x="963" y="526" width="1" height="12" fill="#c0c0c0"/>
<rect x="967" y="537" width="1" height="8" fill="#c0c0c0"/>
<rect x="971" y="537" width="1" height="29" fill="#c0c0c0"/>
<rect x="975" y="537" width="1" height="47" fill="#c0c0c0"/>
<rect x="979" y="537" width="1" height="58" fill="#c0c0c0"/>
<rect x="983" y="537" width="1" height="60" fill="#c0c0c0"/>
<rect x="987" y="537" width="1" height="68" fill="#c0c0c0"/>
<rect x="991" y="537" width="1" height="75" fill="#c0c0c0"/>
<rect x="995" y="537" width="1" height="81" fill="#c0c0c0"/>
<rect x="999" y="537" width="1" height="75" fill="#c0c0c0"/>
<rect x="1003" y="537" width="1" height="70" fill="#c0c0c0"/>
<rect x="1007" y="537" width="1" height="55" fill="#c0c0c0"/>
<rect x="1011" y="537" width="1" height="35" fill="#c0c0c0"/>
<rect x="1015" y="537" width="1" height="17" fill="#c0c0c0"/>
<rect x="1019" y="537" width="1" height="3" fill="#c0c0c0"/>
<rect x="1023" y="530" width="1" height="8" fill="#c0c0c0"/>
<rect x="1027" y="497" width="1" height="41" fill="#c0c0c0"/>
<rect x="1031" y="470" width="1" height="68" fill="#c0c0c0"/>
<rect x="1035" y="448" width="1" height="90" fill="#c0c0c0"/>
<path d="M3,511h1v1h-1zM3,510h1v1h-1zM4,509h1v1h-1zM5,505h1v1h-1zM5,504h1v1h-1zM6,503h1v1h-1zM7,499h1v1h-1zM7,498h1v1h-1zM8,497h1v1h-1zM10,493h1v1h-1zM10,492h1v1h-1zM11,491h1v1h-1zM12,487h1v1h-1zM13,486h1v1h-1zM13,485h1v1h-1zM15,481h1v1h-1zM16,480h1v1h-1zM16,479h1v1h-1zM18,475h1v1h-1zM19,474h1v1h-1zM20,473h1v1h-1zM23,469h1v1h-1zM24,468h1v1h-1zM25,467h1v1h-1zM29,463h1v1h-1zM30,463h1v1h-1zM31,462h1v1h-1zM35,458h1v1h-1zM36,458h1v1h-1zM37,457h1v1h-1zM41,456h1v1h-1zM42,456h1v1h-1zM43,456h1v1h-1zM47,458h1v1h-1zM48,459h1v1h-1zM49,460h1v1h-1zM53,464h1v1h-1zM53,465h1v1h-1zM54,466h1v1h-1zM58,470h1v1h-1zM59,471h1v1h-1zM60,472h1v1h-1zM64,476h1v1h-1zM65,477h1v1h-1zM66,477h1v1h-1zM70,480h1v1h-1zM71,480h1v1h-1zM72,480h1v1h-1zM76,479h1v1h-1zM77,478h1v1h-1zM78,478h1v1h-1zM82,475h1v1h-1zM83,475h1v1h-1zM84,474h1v1h-1zM88,470h1v1h-1zM88,469h1v1h-1zM89,468h1v1h-1zM92,464h1v1h-1zM92,463h1v1h-1zM93,462h1v1h-1zM96,458h1v1h-1zM97,457h1v1h-1zM97,456h1v1h-1zM101,452h1v1h-1zM102,451h1v1h-1zM103,450h1v1h-1zM107,447h1v1h-1zM108,447h1v1h-1zM109,447h1v1h-1zM113,448h1v1h-1zM114,449h1v1h-1zM115,449h1v1h-1zM119,451h1v1h-1zM120,452h1v1h-1zM121,453h1v1h-1zM125,456h1v1h-1zM126,457h1v1h-1zM127,458h1v1h-1zM130,462h1v1h-1zM131,463h1v1h-1zM132,464h1v1h-1zM134,468h1v1h-1zM135,469h1v1h-1zM135,470h1v1h-1zM137,474h1v1h-1zM138,475h1v1h-1zM139,476h1v1h-1zM141,480h1v1h-1zM141,481h1v1h-1zM142,482h1v1h-1zM144,486h1v1h-1zM145,487h1v1h-1zM146,488h1v1h-1zM148,492h1v1h-1zM149,493h1v1h-1zM149,494h1v1h-1zM151,498h1v1h-1zM151,499h1v1h-1zM152,500h1v1h-1zM154,504h1v1h-1zM155,505h1v1h-1zM155,506h1v1h-1zM157,510h1v1h-1zM157,511h1v1h-1zM158,512h1v1h-1zM160,516h1v1h-1zM160,517h1v1h-1zM161,518h1v1h-1zM162,522h1v1h-1zM163,523h1v1h-1zM163,524h1v1h-1zM165,528h1v1h-1zM165,529h1v1h-1zM166,530h1v1h-1zM167,534h1v1h-1zM168,535h1v1h-1zM168,536h1v1h-1zM170,540h1v1h-1zM171,541h1v1h-1zM171,542h1v1h-1zM173,546h1v1h-1zM173,547h1v1h-1zM174,548h1v1h-1zM176,552h1v1h-1zM177,553h1v1h-1zM178,554h1v1h-1zM181,558h1v1h-1zM182,559h1v1h-1zM183,560h1v1h-1zM187,563h1v1h-1zM188,563h1v1h-1zM189,564h1v1h-1zM193,564h1v1h-1zM194,563h1v1h-1zM195,563h1v1h-1zM199,559h1v1h-1zM200,558h1v1h-1zM200,557h1v1h-1zM202,553h1v1h-1zM203,552h1v1h-1zM203,551h1v1h-1zM205,547h1v1h-1zM206,546h1v1h-1zM206,545h1v1h-1zM208,541h1v1h-1zM208,540h1v1h-1zM209,539h1v1h-1zM211,535h1v1h-1zM211,534h1v1h-1zM211,533h1v1h-1zM213,529h1v1h-1zM213,528h1v1h-1zM213,527h1v1h-1zM215,523h1v1h-1zM215,522h1v1h-1zM215,521h1v1h-1zM217,517h1v1h-1zM218,516h1v1h-1zM218,515h1v1h-1zM220,511h1v1h-1zM220,510h1v1h-1zM220,509h1v1h-1zM222,505h1v1h-1zM222,504h1v1h-1zM223,503h1v1h-1zM224,499h1v1h-1zM225,498h1v1h-1zM225,497h1v1h-1zM227,493h1v1h-1zM228,492h1v1h-1zM228,491h1v1h-1zM230,487h1v1h-1zM231,486h1v1h-1zM232,485h1v1h-1zM234,481h1v1h-1zM234,480h1v1h-1zM235,479h1v1h-1zM237,475h1v1h-1zM238,474h1v1h-1zM238,473h1v1h-1zM241,469h1v1h-1zM241,468h1v1h-1zM242,467h1v1h-1zM245,463h1v1h-1zM245,462h1v1h-1zM246,461h1v1h-1zM250,458h1v1h-1zM251,457h1v1h-1zM252,456h1v1h-1zM256,453h1v1h-1zM257,452h1v1h-1zM258,452h1v1h-1zM262,449h1v1h-1zM263,448h1v1h-1zM264,448h1v1h-1zM268,447h1v1h-1zM269,447h1v1h-1zM270,448h1v1h-1zM274,449h1v1h-1zM275,449h1v1h-1zM276,449h1v1h-1zM280,452h1v1h-1zM281,453h1v1h-1zM282,453h1v1h-1zM286,456h1v1h-1zM287,457h1v1h-1zM288,458h1v1h-1zM292,462h1v1h-1zM293,463h1v1h-1zM294,464h1v1h-1zM298,468h1v1h-1zM299,469h1v1h-1zM300,470h1v1h-1zM303,474h1v1h-1zM304,475h1v1h-1zM304,476h1v1h-1zM306,480h1v1h-1zM307,481h1v1h-1zM307,482h1v1h-1zM309,486h1v1h-1zM310,487h1v1h-1zM311,488h1v1h-1zM312,492h1v1h-1zM313,493h1v1h-1zM313,494h1v1h-1zM315,498h1v1h-1zM315,499h1v1h-1zM316,500h1v1h-1zM318,504h1v1h-1zM318,505h1v1h-1zM319,506h1v1h-1zM320,510h1v1h-1zM320,511h1v1h-1zM321,512h1v1h-1zM322,516h1v1h-1zM323,517h1v1h-1zM323,518h1v1h-1zM325,522h1v1h-1zM326,523h1v1h-1zM326,524h1v1h-1zM329,528h1v1h-1zM329,529h1v1h-1zM330,530h1v1h-1zM333,534h1v1h-1zM333,535h1v1h-1zM334,536h1v1h-1zM338,540h1v1h-1zM339,541h1v1h-1zM340,541h1v1h-1zM344,541h1v1h-1zM345,540h1v1h-1zM346,539h1v1h-1zM349,536h1v1h-1zM350,535h1v1h-1zM351,534h1v1h-1zM353,530h1v1h-1zM354,529h1v1h-1zM354,528h1v1h-1zM357,524h1v1h-1zM358,523h1v1h-1zM358,522h1v1h-1zM361,518h1v1h-1zM362,517h1v1h-1zM362,516h1v1h-1zM365,512h1v1h-1zM366,511h1v1h-1zM366,510h1v1h-1zM369,506h1v1h-1zM370,505h1v1h-1zM371,504h1v1h-1zM375,500h1v1h-1zM376,499h1v1h-1zM377,498h1v1h-1zM381,495h1v1h-1zM382,495h1v1h-1zM383,494h1v1h-1zM387,494h1v1h-1zM388,494h1v1h-1zM389,494h1v1h-1zM393,494h1v1h-1zM394,494h1v1h-1zM395,494h1v1h-1zM399,493h1v1h-1zM400,493h1v1h-1zM401,493h1v1h-1zM405,493h1v1h-1zM406,492h1v1h-1zM407,492h1v1h-1zM411,492h1v1h-1zM412,492h1v1h-1zM413,492h1v1h-1zM417,492h1v1h-1zM418,493h1v1h-1zM419,493h1v1h-1zM423,494h1v1h-1zM424,494h1v1h-1zM425,494h1v1h-1zM429,494h1v1h-1zM430,495h1v1h-1zM431,495h1v1h-1zM435,495h1v1h-1zM436,495h1v1h-1zM437,495h1v1h-1zM441,495h1v1h-1zM442,496h1v1h-1zM443,496h1v1h-1zM447,498h1v1h-1zM448,499h1v1h-1zM449,500h1v1h-1zM453,503h1v1h-1zM454,504h1v1h-1zM455,505h1v1h-1zM458,509h1v1h-1zM459,510h1v1h-1zM460,511h1v1h-1zM462,515h1v1h-1zM463,516h1v1h-1zM464,517h1v1h-1zM466,521h1v1h-1zM466,522h1v1h-1zM467,523h1v1h-1zM469,527h1v1h-1zM470,528h1v1h-1zM470,529h1v1h-1zM473,533h1v1h-1zM473,534h1v1h-1zM474,535h1v1h-1zM477,539h1v1h-1zM477,540h1v1h-1zM478,541h1v1h-1zM482,544h1v1h-1zM483,545h1v1h-1zM484,545h1v1h-1zM488,546h1v1h-1zM489,547h1v1h-1zM490,548h1v1h-1zM494,550h1v1h-1zM495,550h1v1h-1zM496,550h1v1h-1zM500,550h1v1h-1zM501,550h1v1h-1zM502,549h1v1h-1zM506,548h1v1h-1zM507,548h1v1h-1zM508,548h1v1h-1zM512,546h1v1h-1zM513,546h1v1h-1zM514,545h1v1h-1zM518,543h1v1h-1zM519,543h1v1h-1zM520,543h1v1h-1zM524,541h1v1h-1zM525,540h1v1h-1zM526,539h1v1h-1zM530,536h1v1h-1zM531,535h1v1h-1zM532,534h1v1h-1zM536,531h1v1h-1zM537,530h1v1h-1zM538,529h1v1h-1zM542,528h1v1h-1zM543,528h1v1h-1zM544,528h1v1h-1zM548,527h1v1h-1zM549,527h1v1h-1zM550,527h1v1h-1zM554,528h1v1h-1zM555,528h1v1h-1zM556,528h1v1h-1zM560,529h1v1h-1zM561,530h1v1h-1zM562,531h1v1h-1zM566,533h1v1h-1zM567,534h1v1h-1zM568,535h1v1h-1zM572,537h1v1h-1zM573,536h1v1h-1zM574,535h1v1h-1zM578,533h1v1h-1zM579,532h1v1h-1zM580,531h1v1h-1zM584,527h1v1h-1zM584,526h1v1h-1zM585,525h1v1h-1zM587,521h1v1h-1zM588,520h1v1h-1zM588,519h1v1h-1zM591,515h1v1h-1zM591,514h1v1h-1zM592,513h1v1h-1zM594,509h1v1h-1zM595,508h1v1h-1zM595,507h1v1h-1zM597,503h1v1h-1zM597,502h1v1h-1zM598,501h1v1h-1zM599,497h1v1h-1zM600,496h1v1h-1zM601,495h1v1h-1zM603,491h1v1h-1zM603,490h1v1h-1zM603,489h1v1h-1zM605,485h1v1h-1zM606,484h1v1h-1zM607,483h1v1h-1zM609,479h1v1h-1zM609,478h1v1h-1zM609,477h1v1h-1zM612,473h1v1h-1zM612,472h1v1h-1zM613,471h1v1h-1zM616,467h1v1h-1zM617,466h1v1h-1zM617,465h1v1h-1zM621,461h1v1h-1zM622,460h1v1h-1zM623,459h1v1h-1zM627,455h1v1h-1zM628,454h1v1h-1zM629,453h1v1h-1zM633,451h1v1h-1zM634,450h1v1h-1zM635,450h1v1h-1zM639,449h1v1h-1zM640,449h1v1h-1zM641,448h1v1h-1zM645,446h1v1h-1zM646,445h1v1h-1zM647,445h1v1h-1zM651,444h1v1h-1zM652,444h1v1h-1zM653,444h1v1h-1zM657,444h1v1h-1zM658,445h1v1h-1zM659,445h1v1h-1zM663,446h1v1h-1zM664,447h1v1h-1zM665,448h1v1h-1zM669,451h1v1h-1zM670,451h1v1h-1zM671,452h1v1h-1zM675,455h1v1h-1zM676,456h1v1h-1zM677,457h1v1h-1zM680,461h1v1h-1zM681,462h1v1h-1zM681,463h1v1h-1zM685,467h1v1h-1zM685,468h1v1h-1zM686,469h1v1h-1zM690,473h1v1h-1zM691,474h1v1h-1zM692,475h1v1h-1zM694,479h1v1h-1zM695,480h1v1h-1zM695,481h1v1h-1zM697,485h1v1h-1zM698,486h1v1h-1zM698,487h1v1h-1zM700,491h1v1h-1zM701,492h1v1h-1zM701,493h1v1h-1zM703,497h1v1h-1zM704,498h1v1h-1zM704,499h1v1h-1zM706,503h1v1h-1zM707,504h1v1h-1zM707,505h1v1h-1zM708,509h1v1h-1zM709,510h1v1h-1zM709,511h1v1h-1zM711,515h1v1h-1zM711,516h1v1h-1zM711,517h1v1h-1zM713,521h1v1h-1zM713,522h1v1h-1zM714,523h1v1h-1zM715,527h1v1h-1zM716,528h1v1h-1zM716,529h1v1h-1zM718,533h1v1h-1zM719,534h1v1h-1zM719,535h1v1h-1zM720,539h1v1h-1zM721,540h1v1h-1zM721,541h1v1h-1zM723,545h1v1h-1zM723,546h1v1h-1zM723,547h1v1h-1zM725,551h1v1h-1zM726,552h1v1h-1zM726,553h1v1h-1zM728,557h1v1h-1zM729,558h1v1h-1zM729,559h1v1h-1zM732,563h1v1h-1zM733,564h1v1h-1zM734,565h1v1h-1zM738,568h1v1h-1zM739,569h1v1h-1zM740,569h1v1h-1zM744,571h1v1h-1zM745,571h1v1h-1zM746,571h1v1h-1zM750,570h1v1h-1zM751,570h1v1h-1zM752,570h1v1h-1zM756,567h1v1h-1zM757,566h1v1h-1zM757,565h1v1h-1zM761,561h1v1h-1zM761,560h1v1h-1zM762,559h1v1h-1zM765,555h1v1h-1zM765,554h1v1h-1zM765,553h1v1h-1zM767,549h1v1h-1zM768,548h1v1h-1zM768,547h1v1h-1zM770,543h1v1h-1zM770,542h1v1h-1zM771,541h1v1h-1zM772,537h1v1h-1zM772,536h1v1h-1zM772,535h1v1h-1zM774,531h1v1h-1zM774,530h1v1h-1zM774,529h1v1h-1zM775,525h1v1h-1zM776,524h1v1h-1zM776,523h1v1h-1zM778,519h1v1h-1zM778,518h1v1h-1zM778,517h1v1h-1zM780,513h1v1h-1zM780,512h1v1h-1zM780,511h1v1h-1zM782,507h1v1h-1zM782,506h1v1h-1zM782,505h1v1h-1zM784,501h1v1h-1zM784,500h1v1h-1zM784,499h1v1h-1zM785,495h1v1h-1zM786,494h1v1h-1zM786,493h1v1h-1zM787,489h1v1h-1zM788,488h1v1h-1zM788,487h1v1h-1zM789,483h1v1h-1zM789,482h1v1h-1zM790,481h1v1h-1zM791,477h1v1h-1zM791,476h1v1h-1zM791,475h1v1h-1zM793,471h1v1h-1zM794,470h1v1h-1zM795,469h1v1h-1zM797,465h1v1h-1zM798,464h1v1h-1zM799,463h1v1h-1zM803,462h1v1h-1zM804,462h1v1h-1zM805,463h1v1h-1zM808,466h1v1h-1zM809,467h1v1h-1zM810,468h1v1h-1zM812,472h1v1h-1zM813,473h1v1h-1zM813,474h1v1h-1zM815,478h1v1h-1zM816,479h1v1h-1zM816,480h1v1h-1zM818,484h1v1h-1zM819,485h1v1h-1zM819,486h1v1h-1zM821,490h1v1h-1zM821,491h1v1h-1zM821,492h1v1h-1zM823,496h1v1h-1zM823,497h1v1h-1zM824,498h1v1h-1zM826,502h1v1h-1zM826,503h1v1h-1zM827,504h1v1h-1zM829,508h1v1h-1zM829,509h1v1h-1zM830,510h1v1h-1zM833,514h1v1h-1zM833,515h1v1h-1zM834,516h1v1h-1zM837,520h1v1h-1zM838,521h1v1h-1zM839,522h1v1h-1zM843,526h1v1h-1zM844,527h1v1h-1zM845,528h1v1h-1zM849,532h1v1h-1zM850,532h1v1h-1zM851,533h1v1h-1zM855,534h1v1h-1zM856,534h1v1h-1zM857,534h1v1h-1zM861,535h1v1h-1zM862,535h1v1h-1zM863,535h1v1h-1zM867,535h1v1h-1zM868,535h1v1h-1zM869,535h1v1h-1zM873,533h1v1h-1zM874,532h1v1h-1zM875,532h1v1h-1zM879,529h1v1h-1zM880,528h1v1h-1zM881,527h1v1h-1zM884,523h1v1h-1zM885,522h1v1h-1zM886,521h1v1h-1zM888,517h1v1h-1zM889,516h1v1h-1zM889,515h1v1h-1zM892,511h1v1h-1zM892,510h1v1h-1zM893,509h1v1h-1zM895,505h1v1h-1zM896,504h1v1h-1zM897,503h1v1h-1zM899,499h1v1h-1zM899,498h1v1h-1zM899,497h1v1h-1zM901,493h1v1h-1zM902,492h1v1h-1zM902,491h1v1h-1zM904,487h1v1h-1zM905,486h1v1h-1zM905,485h1v1h-1zM907,481h1v1h-1zM908,480h1v1h-1zM908,479h1v1h-1zM911,475h1v1h-1zM912,474h1v1h-1zM913,473h1v1h-1zM916,470h1v1h-1zM917,469h1v1h-1zM918,468h1v1h-1zM922,467h1v1h-1zM923,467h1v1h-1zM924,467h1v1h-1zM928,468h1v1h-1zM929,469h1v1h-1zM930,470h1v1h-1zM934,473h1v1h-1zM935,474h1v1h-1zM936,475h1v1h-1zM938,479h1v1h-1zM939,480h1v1h-1zM940,481h1v1h-1zM942,485h1v1h-1zM943,486h1v1h-1zM944,487h1v1h-1zM947,491h1v1h-1zM948,492h1v1h-1zM949,493h1v1h-1zM953,496h1v1h-1zM954,497h1v1h-1zM955,497h1v1h-1zM959,499h1v1h-1zM960,500h1v1h-1zM961,501h1v1h-1zM964,505h1v1h-1zM965,506h1v1h-1zM966,507h1v1h-1zM968,511h1v1h-1zM969,512h1v1h-1zM969,513h1v1h-1zM971,517h1v1h-1zM972,518h1v1h-1zM972,519h1v1h-1zM974,523h1v1h-1zM975,524h1v1h-1zM975,525h1v1h-1zM977,529h1v1h-1zM977,530h1v1h-1zM978,531h1v1h-1zM979,535h1v1h-1zM980,536h1v1h-1zM980,537h1v1h-1zM982,541h1v1h-1zM982,542h1v1h-1zM982,543h1v1h-1zM984,547h1v1h-1zM984,548h1v1h-1zM984,549h1v1h-1zM985,553h1v1h-1zM986,554h1v1h-1zM986,555h1v1h-1zM987,559h1v1h-1zM988,560h1v1h-1zM988,561h1v1h-1zM989,565h1v1h-1zM990,566h1v1h-1zM990,567h1v1h-1zM991,571h1v1h-1zM992,572h1v1h-1zM992,573h1v1h-1zM993,577h1v1h-1zM993,578h1v1h-1zM994,579h1v1h-1zM995,583h1v1h-1zM995,584h1v1h-1zM996,585h1v1h-1zM998,589h1v1h-1zM998,590h1v1h-1zM999,591h1v1h-1zM1001,595h1v1h-1zM1001,596h1v1h-1zM1002,597h1v1h-1zM1005,599h1v1h-1zM1006,600h1v1h-1zM1007,600h1v1h-1zM1011,600h1v1h-1zM1012,599h1v1h-1zM1013,598h1v1h-1zM1016,595h1v1h-1zM1017,594h1v1h-1zM1017,593h1v1h-1zM1019,589h1v1h-1zM1019,588h1v1h-1zM1020,587h1v1h-1zM1022,583h1v1h-1zM1023,582h1v1h-1zM1023,581h1v1h-1zM1024,577h1v1h-1zM1024,576h1v1h-1zM1025,575h1v1h-1zM1026,571h1v1h-1zM1026,570h1v1h-1zM1026,569h1v1h-1zM1027,565h1v1h-1zM1028,564h1v1h-1zM1028,563h1v1h-1zM1029,559h1v1h-1zM1029,558h1v1h-1zM1030,557h1v1h-1zM1031,553h1v1h-1zM1031,552h1v1h-1zM1031,551h1v1h-1zM1032,547h1v1h-1zM1033,546h1v1h-1zM1033,545h1v1h-1zM1034,541h1v1h-1zM1034,540h1v1h-1zM1034,539h1v1h-1z" fill="#ff0000"/>
<rect x="1307" y="94" width="2" height="1" fill="#000"/>
<rect x="1307" y="127" width="2" height="1" fill="#000"/>
<rect x="1307" y="160" width="2" height="1" fill="#000"/>
<rect x="1307" y="193" width="2" height="1" fill="#000"/>
<rect x="1307" y="226" width="2" height="1" fill="#000"/>
<rect x="1307" y="259" width="2" height="1" fill="#000"/>
<rect x="1307" y="292" width="2" height="1" fill="#000"/>
<rect x="1307" y="325" width="2" height="1" fill="#000"/>
<rect x="1307" y="358" width="2" height="1" fill="#000"/>
<rect x="1307" y="391" width="2" height="1" fill="#000"/>
<rect x="1307" y="424" width="2" height="1" fill="#000"/>
<rect x="1307" y="431" width="1" height="1" fill="#000"/>
<rect x="1307" y="537" width="1" height="1" fill="#000"/>
<rect x="1307" y="626" width="1" height="1" fill="#000"/>
<rect x="3" y="628" width="1" height="3" fill="#000"/>
<rect x="67" y="628" width="1" height="3" fill="#000"/>
<rect x="131" y="628" width="1" height="3" fill="#000"/>
<rect x="195" y="628" width="1" height="3" fill="#000"/>
<rect x="259" y="628" width="1" height="3" fill="#000"/>
<rect x="323" y="628" width="1" height="3" fill="#000"/>
<rect x="387" y="628" width="1" height="3" fill="#000"/>
<rect x="451" y="628" width="1" height="3" fill="#000"/>
<rect x="515" y="628" width="1" height="3" fill="#000"/>
<rect x="579" y="628" width="1" height="3" fill="#000"/>
<rect x="643" y="628" width="1" height="3" fill="#000"/>
<rect x="707" y="628" width="1" height="3" fill="#000"/>
<rect x="771" y="628" width="1" height="3" fill="#000"/>
<rect x="835" y="628" width="1" height="3" fill="#000"/>
<rect x="899" y="628" width="1" height="3" fill="#000"/>
<rect x="963" y="628" width="1" height="3" fill="#000"/>
<rect x="1027" y="628" width="1" height="3" fill="#000"/>
</svg>
<div class="ax" style="left:1312px;top:90px;">1.33390</div>
<div class="ax" style="left:1312px;top:123px;">1.32960</div>
<div class="ax" style="left:1312px;top:156px;">1.32530</div>
<div class="ax" style="left:1312px;top:189px;">1.32090</div>
<div class="ax" style="left:1312px;top:222px;">1.31660</div>
<div class="ax" style="left:1312px;top:255px;">1.31230</div>
<div class="ax" style="left:1312px;top:288px;">1.30790</div>
<div class="ax" style="left:1312px;top:321px;">1.30360</div>
<div class="ax" style="left:1312px;top:354px;">1.29930</div>
<div class="ax" style="left:1312px;top:387px;">1.29490</div>
<div class="ax" style="left:1312px;top:420px;">1.29060</div>
<div class="ax" style="left:1312px;top:57px;">1.33830</div>
<div class="a" style="left:1308px;top:51px;width:41px;height:11px;background:#000;"></div>
<div class="a" style="left:1307px;top:61px;width:1px;height:1px;background:#000;"></div>
<div class="ax" style="left:1312px;top:52px;color:#fff;">1.33898</div>
<div class="ax" style="left:1311px;top:432px;">0.003292</div>
<div class="ax" style="left:1311px;top:533px;">0.00</div>
<div class="ax" style="left:1310px;top:616px;">-0.002787</div>
<div class="ax tl" style="left:2px;top:632px;">8 Oct 2018</div>
<div class="ax tl" style="left:66px;top:632px;">10 Oct 22:00</div>
<div class="ax tl" style="left:130px;top:632px;">15 Oct 15:00</div>
<div class="ax tl" style="left:194px;top:632px;">18 Oct 04:00</div>
<div class="ax tl" style="left:258px;top:632px;">22 Oct 23:00</div>
<div class="ax tl" style="left:322px;top:632px;">25 Oct 14:00</div>
<div class="ax tl" style="left:386px;top:632px;">30 Oct 04:00</div>
<div class="ax tl" style="left:450px;top:632px;">1 Nov 22:00</div>
<div class="ax tl" style="left:514px;top:632px;">6 Nov 15:00</div>
<div class="ax tl" style="left:578px;top:632px;">9 Nov 04:00</div>
<div class="ax tl" style="left:642px;top:632px;">13 Nov 23:00</div>
<div class="ax tl" style="left:706px;top:632px;">16 Nov 15:00</div>
<div class="ax tl" style="left:770px;top:632px;">21 Nov 04:00</div>
<div class="ax tl" style="left:834px;top:632px;">23 Nov 23:00</div>
<div class="ax tl" style="left:898px;top:632px;">28 Nov 15:00</div>
<div class="ax tl" style="left:962px;top:632px;">3 Dec 07:00</div>
<div class="ax tl" style="left:1026px;top:632px;">5 Dec 23:00</div>
<svg class="a" style="left:6px;top:36px" width="8" height="5"><path d="M0,4.5 L3.5,0 L7,4.5 Z" fill="#000"/></svg>
<div class="ax" style="left:18px;top:33px;letter-spacing:-0.1px;"><span style="letter-spacing:0.1px">USDCAD,H4</span>&nbsp; 1.33843 1.33917 1.33513 1.33898</div>
<div class="ax" style="left:7.5px;top:434px;letter-spacing:-0.1px;">MACD(12,26,9) 0.002771 0.000077</div>
<div class="a" style="left:4px;top:47px;width:223px;height:68px;background:#fff;"></div>
<div class="a" style="left:6px;top:73px;width:109px;height:40px;box-sizing:border-box;border:1px solid #0000b4;background:linear-gradient(#3a36e6,#1c18d2 45%,#0000ac);"></div>
<div class="a" style="left:117px;top:73px;width:108px;height:40px;box-sizing:border-box;border:1px solid #0000b4;background:linear-gradient(#3a36e6,#1c18d2 45%,#0000ac);"></div>
<div class="a" style="left:6px;top:49px;width:52px;height:25px;box-sizing:border-box;border:1px solid #0000b4;border-bottom:none;background:linear-gradient(#5a5afb,#3c38e8);"></div>
<div class="a" style="left:173px;top:49px;width:52px;height:25px;box-sizing:border-box;border:1px solid #0000b4;border-bottom:none;background:linear-gradient(#5a5afb,#3c38e8);"></div>
<div class="a" style="left:10px;top:72px;width:44px;height:1px;background:#000088;"></div>
<div class="a" style="left:10px;top:73px;width:44px;height:1px;background:#8080ff;"></div>
<div class="a" style="left:177px;top:72px;width:44px;height:1px;background:#000088;"></div>
<div class="a" style="left:177px;top:73px;width:44px;height:1px;background:#8080ff;"></div>
<div class="a" style="left:60px;top:49px;width:111px;height:22px;box-sizing:border-box;border:1px solid #ababab;background:#fff;"></div>
<div class="a" style="left:62px;top:51px;width:18px;height:18px;background:linear-gradient(#f3f3f3,#ebebeb 33%,#dddddd 33%,#d2d2d2);"></div>
<div class="a" style="left:81px;top:50px;width:1px;height:20px;background:#ababab;"></div>
<div class="a" style="left:151px;top:51px;width:18px;height:18px;background:linear-gradient(#f3f3f3,#ebebeb 33%,#dddddd 33%,#d2d2d2);"></div>
<div class="a" style="left:149px;top:50px;width:1px;height:20px;background:#ababab;"></div>
<svg class="a" style="left:68px;top:58px" width="6" height="4"><path d="M0,0 L5,0 L2.5,3 Z" fill="#3c52b4"/></svg>
<svg class="a" style="left:157px;top:58px" width="6" height="4"><path d="M0,3 L5,3 L2.5,0 Z" fill="#3c52b4"/></svg>
<div class="t" style="left:100px;top:54px;width:46px;text-align:right;font-size:12px;color:#000;">3.00</div>
<div class="t" style="left:18px;top:55px;font-size:12px;color:#fff;letter-spacing:-0.9px;">SELL</div>
<div class="t" style="left:186px;top:55px;font-size:12px;color:#fff;letter-spacing:-0.1px;">BUY</div>
<div class="t" style="left:26px;top:94px;font-size:11px;font-weight:bold;color:#fff;letter-spacing:0.8px;">1.33</div>
<div class="t" style="left:54px;top:76px;font-size:31px;color:#fff;letter-spacing:0px;">89</div>
<div class="t" style="left:93.5px;top:79px;font-size:11px;font-weight:bold;color:#fff;">8</div>
<div class="t" style="left:136px;top:94px;font-size:11px;font-weight:bold;color:#fff;letter-spacing:0.8px;">1.33</div>
<div class="t" style="left:164px;top:76px;font-size:31px;color:#fff;letter-spacing:0px;">92</div>
<div class="t" style="left:204.5px;top:79px;font-size:11px;font-weight:bold;color:#fff;">3</div>

<div class="a" style="left:0;top:648px;width:1350px;height:1px;background:#f4f4f4;"></div>
<div class="a" style="left:0;top:650px;width:1350px;height:19px;background:#f0f0f0;"></div>
<div class="a" style="left:0;top:650px;width:1350px;height:1px;background:#000;"></div>
<div class="a" style="left:0;top:651px;width:1350px;height:1px;background:#fafafa;"></div>
<div class="a" style="left:0;top:669px;width:1350px;height:1px;background:#f4f4f4;"></div>
<div class="a" style="left:0;top:670px;width:1350px;height:4px;background:#fafafa;"></div>
<div class="a" style="left:0;top:674px;width:1348px;height:1px;background:#b4b4b4;"></div>
<div class="a" style="left:0;top:675px;width:1350px;height:2px;background:#f6f6f6;"></div>
<div class="a" style="left:184px;top:650px;width:92px;height:19px;box-sizing:border-box;background:#fff;border:1px solid #000;border-top:none;"></div>
<div class="a" style="left:96px;top:653px;width:1px;height:14px;background:#808080;"></div>
<div class="a" style="left:368px;top:653px;width:1px;height:14px;background:#808080;"></div>
<div class="a" style="left:460px;top:653px;width:1px;height:14px;background:#808080;"></div>
<div class="tab" style="left:16px;">EURUSD,H1</div>
<div class="tab" style="left:106px;">USDCHF,H4</div>
<div class="tab" style="left:195px;color:#000;">USDCAD,H4</div>
<div class="tab" style="left:287px;">AUDUSD,H4</div>
<div class="tab" style="left:378px;">USDCNH,H1</div>
<svg class="a" style="left:1318px;top:655px" width="26" height="10"><path d="M4.2,1 L4.2,7 L0.8,4 Z" fill="#8a8a8a"/><path d="M20,1 L20,7 L23.4,4 Z" fill="#8a8a8a"/></svg>

</body></html>
